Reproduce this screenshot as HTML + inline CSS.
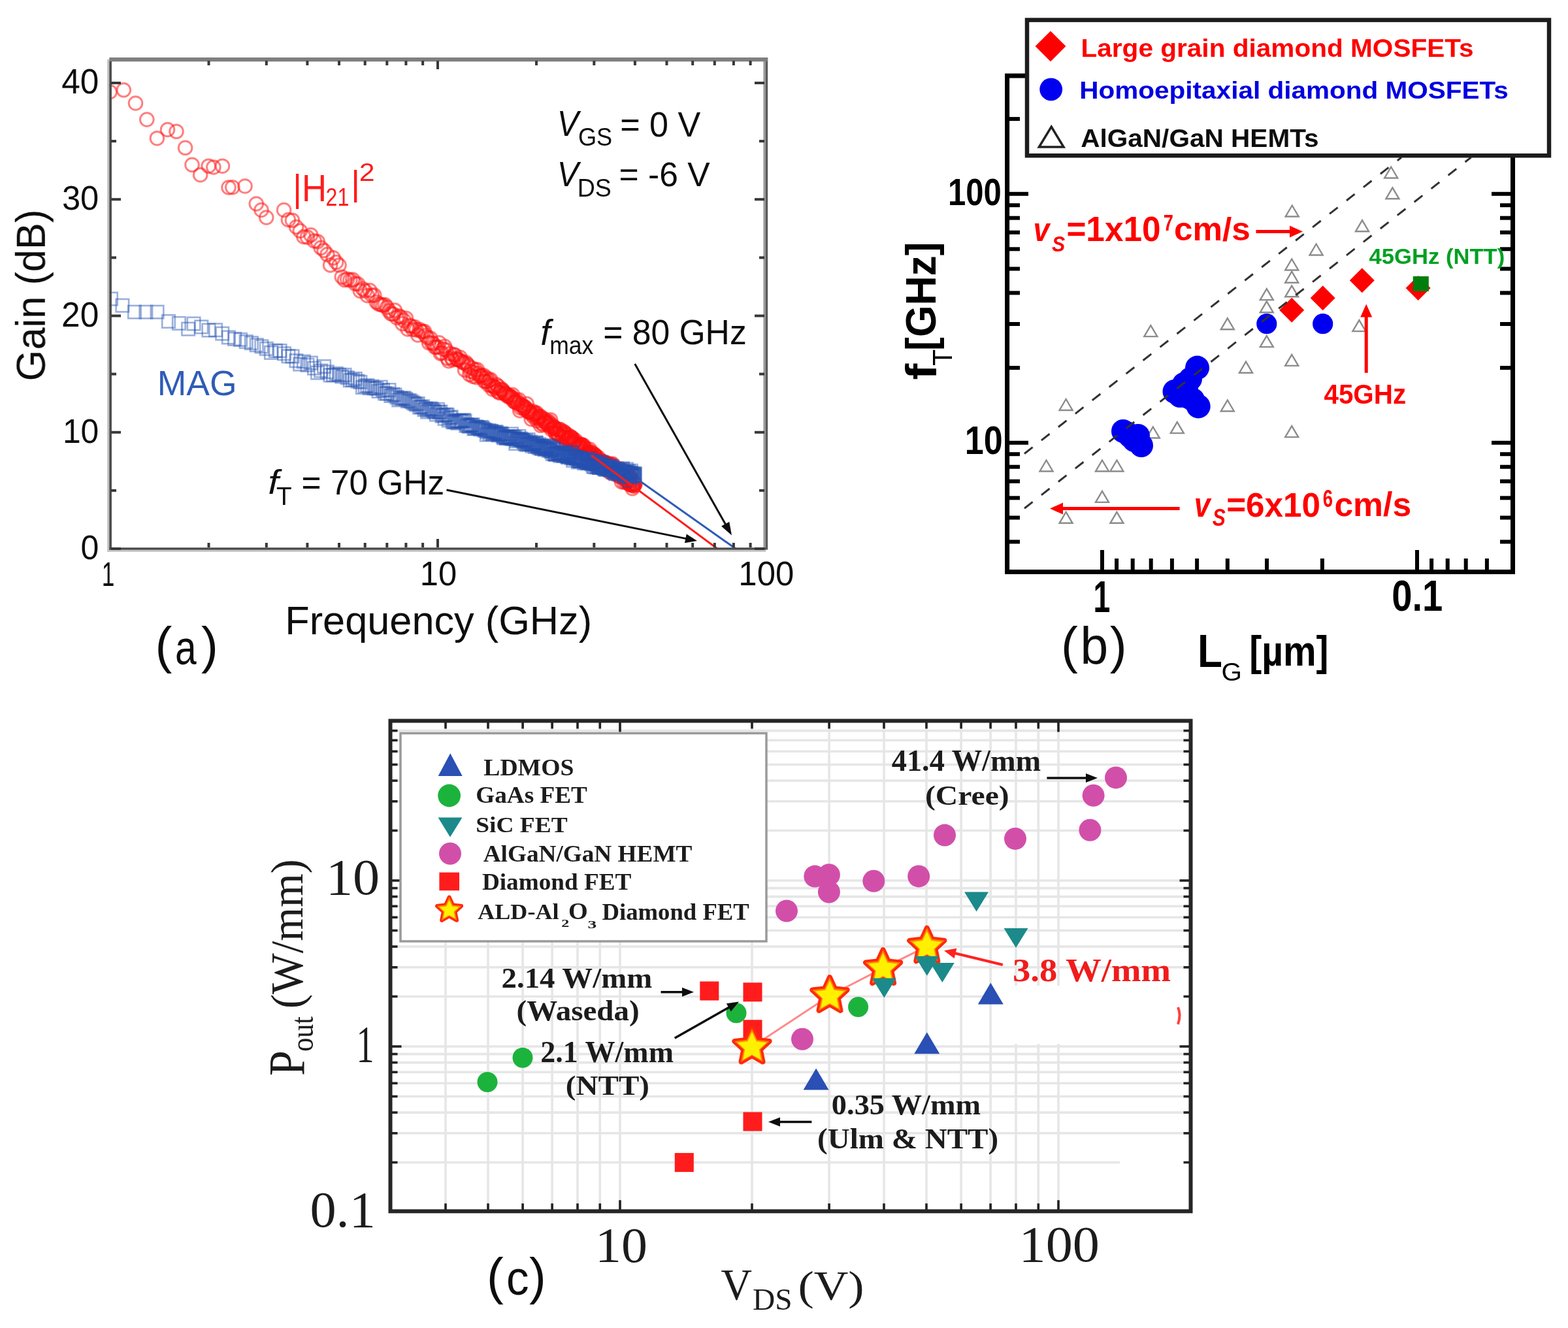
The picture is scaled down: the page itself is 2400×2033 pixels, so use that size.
<!DOCTYPE html>
<html><head><meta charset="utf-8"><title>Figure</title>
<style>html,body{margin:0;padding:0;background:#fff;}svg{display:block;}</style></head>
<body>
<svg width="2400" height="2033" viewBox="0 0 2400 2033">
<defs>
<filter id="soft" x="0" y="0" width="2400" height="2033" filterUnits="userSpaceOnUse"><feGaussianBlur stdDeviation="0.7"/></filter>
<clipPath id="clipA"><rect x="166" y="89" width="1008" height="753"/></clipPath>
</defs>
<rect width="2400" height="2033" fill="#fff"/>
<g filter="url(#soft)">
<g clip-path="url(#clipA)">
<g fill="none" stroke="#ff0a0a" stroke-width="3" stroke-opacity="0.5">
<circle cx="168.2" cy="140.7" r="10.3"/>
<circle cx="189.3" cy="137.8" r="10.3"/>
<circle cx="207.5" cy="158.0" r="10.3"/>
<circle cx="224.8" cy="183.0" r="10.3"/>
<circle cx="240.4" cy="211.7" r="10.3"/>
<circle cx="256.5" cy="198.5" r="10.3"/>
<circle cx="270.0" cy="201.3" r="10.3"/>
<circle cx="283.6" cy="226.3" r="10.3"/>
<circle cx="294.0" cy="252.3" r="10.3"/>
<circle cx="306.7" cy="267.7" r="10.3"/>
<circle cx="319.2" cy="254.2" r="10.3"/>
<circle cx="326.9" cy="256.0" r="10.3"/>
<circle cx="340.4" cy="254.2" r="10.3"/>
<circle cx="350.0" cy="287.0" r="10.3"/>
<circle cx="355.8" cy="286.7" r="10.3"/>
<circle cx="375.0" cy="285.0" r="10.3"/>
<circle cx="392.3" cy="312.0" r="10.3"/>
<circle cx="400.0" cy="321.5" r="10.3"/>
<circle cx="407.7" cy="333.0" r="10.3"/>
<circle cx="434.6" cy="321.5" r="10.3"/>
<circle cx="441.4" cy="336.5" r="10.3"/>
<circle cx="447.5" cy="337.3" r="10.3"/>
<circle cx="453.5" cy="347.5" r="10.3"/>
<circle cx="459.3" cy="353.4" r="10.3"/>
<circle cx="464.9" cy="362.5" r="10.3"/>
<circle cx="470.4" cy="363.1" r="10.3"/>
<circle cx="475.8" cy="359.8" r="10.3"/>
<circle cx="481.1" cy="368.9" r="10.3"/>
<circle cx="486.2" cy="369.8" r="10.3"/>
<circle cx="491.2" cy="379.4" r="10.3"/>
<circle cx="496.1" cy="383.5" r="10.3"/>
<circle cx="500.9" cy="389.6" r="10.3"/>
<circle cx="505.6" cy="405.9" r="10.3"/>
<circle cx="510.1" cy="394.8" r="10.3"/>
<circle cx="514.6" cy="401.5" r="10.3"/>
<circle cx="519.0" cy="406.0" r="10.3"/>
<circle cx="523.3" cy="424.0" r="10.3"/>
<circle cx="527.6" cy="428.6" r="10.3"/>
<circle cx="531.7" cy="427.4" r="10.3"/>
<circle cx="535.8" cy="428.9" r="10.3"/>
<circle cx="539.8" cy="428.1" r="10.3"/>
<circle cx="543.7" cy="434.3" r="10.3"/>
<circle cx="547.6" cy="434.6" r="10.3"/>
<circle cx="551.4" cy="445.4" r="10.3"/>
<circle cx="555.1" cy="442.2" r="10.3"/>
<circle cx="558.7" cy="445.1" r="10.3"/>
<circle cx="562.3" cy="452.5" r="10.3"/>
<circle cx="565.9" cy="444.5" r="10.3"/>
<circle cx="569.4" cy="452.2" r="10.3"/>
<circle cx="572.8" cy="451.9" r="10.3"/>
<circle cx="576.2" cy="462.5" r="10.3"/>
<circle cx="579.5" cy="465.5" r="10.3"/>
<circle cx="582.8" cy="466.1" r="10.3"/>
<circle cx="586.0" cy="467.4" r="10.3"/>
<circle cx="589.2" cy="466.5" r="10.3"/>
<circle cx="592.3" cy="470.5" r="10.3"/>
<circle cx="595.4" cy="475.9" r="10.3"/>
<circle cx="598.5" cy="480.4" r="10.3"/>
<circle cx="601.5" cy="480.7" r="10.3"/>
<circle cx="604.4" cy="475.1" r="10.3"/>
<circle cx="607.3" cy="486.3" r="10.3"/>
<circle cx="610.2" cy="483.7" r="10.3"/>
<circle cx="613.1" cy="485.0" r="10.3"/>
<circle cx="615.9" cy="495.6" r="10.3"/>
<circle cx="618.7" cy="490.8" r="10.3"/>
<circle cx="621.4" cy="487.2" r="10.3"/>
<circle cx="624.1" cy="504.0" r="10.3"/>
<circle cx="626.8" cy="498.4" r="10.3"/>
<circle cx="629.4" cy="499.4" r="10.3"/>
<circle cx="632.0" cy="504.5" r="10.3"/>
<circle cx="634.6" cy="500.5" r="10.3"/>
<circle cx="637.2" cy="504.9" r="10.3"/>
<circle cx="639.7" cy="513.0" r="10.3"/>
<circle cx="642.2" cy="504.6" r="10.3"/>
<circle cx="644.6" cy="507.2" r="10.3"/>
<circle cx="647.1" cy="507.7" r="10.3"/>
<circle cx="649.5" cy="507.3" r="10.3"/>
<circle cx="651.8" cy="513.9" r="10.3"/>
<circle cx="654.2" cy="516.7" r="10.3"/>
<circle cx="656.5" cy="524.8" r="10.3"/>
<circle cx="658.8" cy="517.9" r="10.3"/>
<circle cx="661.1" cy="525.1" r="10.3"/>
<circle cx="663.4" cy="526.1" r="10.3"/>
<circle cx="665.6" cy="531.3" r="10.3"/>
<circle cx="667.8" cy="531.6" r="10.3"/>
<circle cx="670.0" cy="531.3" r="10.3"/>
<circle cx="672.2" cy="524.8" r="10.3"/>
<circle cx="674.3" cy="541.2" r="10.3"/>
<circle cx="676.4" cy="540.2" r="10.3"/>
<circle cx="678.5" cy="534.2" r="10.3"/>
<circle cx="680.6" cy="530.4" r="10.3"/>
<circle cx="682.7" cy="535.8" r="10.3"/>
<circle cx="684.7" cy="548.3" r="10.3"/>
<circle cx="686.8" cy="552.6" r="10.3"/>
<circle cx="688.8" cy="541.3" r="10.3"/>
<circle cx="690.8" cy="547.6" r="10.3"/>
<circle cx="692.7" cy="550.8" r="10.3"/>
<circle cx="694.7" cy="542.9" r="10.3"/>
<circle cx="696.6" cy="543.8" r="10.3"/>
<circle cx="698.5" cy="549.4" r="10.3"/>
<circle cx="700.4" cy="550.4" r="10.3"/>
<circle cx="702.3" cy="550.9" r="10.3"/>
<circle cx="704.2" cy="547.1" r="10.3"/>
<circle cx="706.0" cy="552.7" r="10.3"/>
<circle cx="707.9" cy="554.5" r="10.3"/>
<circle cx="709.7" cy="555.7" r="10.3"/>
<circle cx="711.5" cy="566.4" r="10.3"/>
<circle cx="713.3" cy="555.0" r="10.3"/>
<circle cx="715.1" cy="557.7" r="10.3"/>
<circle cx="716.9" cy="560.8" r="10.3"/>
<circle cx="718.6" cy="573.3" r="10.3"/>
<circle cx="720.3" cy="568.5" r="10.3"/>
<circle cx="722.1" cy="563.2" r="10.3"/>
<circle cx="723.8" cy="576.2" r="10.3"/>
<circle cx="725.5" cy="570.2" r="10.3"/>
<circle cx="727.1" cy="566.0" r="10.3"/>
<circle cx="728.8" cy="577.6" r="10.3"/>
<circle cx="730.5" cy="565.8" r="10.3"/>
<circle cx="732.1" cy="571.7" r="10.3"/>
<circle cx="733.7" cy="575.9" r="10.3"/>
<circle cx="735.4" cy="575.0" r="10.3"/>
<circle cx="737.0" cy="574.7" r="10.3"/>
<circle cx="738.6" cy="578.2" r="10.3"/>
<circle cx="740.1" cy="574.7" r="10.3"/>
<circle cx="741.7" cy="583.9" r="10.3"/>
<circle cx="743.3" cy="583.9" r="10.3"/>
<circle cx="744.8" cy="578.6" r="10.3"/>
<circle cx="746.4" cy="584.2" r="10.3"/>
<circle cx="747.9" cy="589.3" r="10.3"/>
<circle cx="749.4" cy="582.3" r="10.3"/>
<circle cx="750.9" cy="581.0" r="10.3"/>
<circle cx="752.4" cy="590.6" r="10.3"/>
<circle cx="753.9" cy="595.8" r="10.3"/>
<circle cx="755.4" cy="591.3" r="10.3"/>
<circle cx="756.9" cy="592.5" r="10.3"/>
<circle cx="758.3" cy="593.9" r="10.3"/>
<circle cx="759.8" cy="588.9" r="10.3"/>
<circle cx="761.2" cy="598.6" r="10.3"/>
<circle cx="762.6" cy="591.4" r="10.3"/>
<circle cx="764.0" cy="601.4" r="10.3"/>
<circle cx="765.5" cy="600.7" r="10.3"/>
<circle cx="766.9" cy="596.7" r="10.3"/>
<circle cx="768.2" cy="595.9" r="10.3"/>
<circle cx="769.6" cy="597.9" r="10.3"/>
<circle cx="771.0" cy="600.7" r="10.3"/>
<circle cx="772.4" cy="602.4" r="10.3"/>
<circle cx="773.7" cy="603.3" r="10.3"/>
<circle cx="775.1" cy="602.8" r="10.3"/>
<circle cx="776.4" cy="606.4" r="10.3"/>
<circle cx="777.7" cy="605.7" r="10.3"/>
<circle cx="779.1" cy="605.6" r="10.3"/>
<circle cx="780.4" cy="608.6" r="10.3"/>
<circle cx="781.7" cy="606.8" r="10.3"/>
<circle cx="783.0" cy="608.4" r="10.3"/>
<circle cx="784.3" cy="604.2" r="10.3"/>
<circle cx="785.6" cy="611.1" r="10.3"/>
<circle cx="786.8" cy="614.7" r="10.3"/>
<circle cx="788.1" cy="615.5" r="10.3"/>
<circle cx="789.4" cy="615.1" r="10.3"/>
<circle cx="790.6" cy="612.6" r="10.3"/>
<circle cx="791.9" cy="618.0" r="10.3"/>
<circle cx="793.1" cy="616.3" r="10.3"/>
<circle cx="794.4" cy="612.0" r="10.3"/>
<circle cx="795.6" cy="628.6" r="10.3"/>
<circle cx="796.8" cy="624.3" r="10.3"/>
<circle cx="798.0" cy="620.3" r="10.3"/>
<circle cx="799.2" cy="620.6" r="10.3"/>
<circle cx="800.4" cy="622.1" r="10.3"/>
<circle cx="801.6" cy="625.3" r="10.3"/>
<circle cx="802.8" cy="622.2" r="10.3"/>
<circle cx="804.0" cy="624.4" r="10.3"/>
<circle cx="805.2" cy="628.1" r="10.3"/>
<circle cx="806.3" cy="618.4" r="10.3"/>
<circle cx="807.5" cy="626.6" r="10.3"/>
<circle cx="808.6" cy="630.6" r="10.3"/>
<circle cx="809.8" cy="629.8" r="10.3"/>
<circle cx="810.9" cy="631.1" r="10.3"/>
<circle cx="812.1" cy="631.3" r="10.3"/>
<circle cx="813.2" cy="641.6" r="10.3"/>
<circle cx="814.3" cy="634.4" r="10.3"/>
<circle cx="815.5" cy="629.8" r="10.3"/>
<circle cx="816.6" cy="638.4" r="10.3"/>
<circle cx="817.7" cy="635.2" r="10.3"/>
<circle cx="818.8" cy="632.3" r="10.3"/>
<circle cx="819.9" cy="633.4" r="10.3"/>
<circle cx="821.0" cy="631.9" r="10.3"/>
<circle cx="822.1" cy="644.1" r="10.3"/>
<circle cx="823.1" cy="640.0" r="10.3"/>
<circle cx="824.2" cy="640.7" r="10.3"/>
<circle cx="825.3" cy="638.1" r="10.3"/>
<circle cx="826.3" cy="637.1" r="10.3"/>
<circle cx="827.4" cy="651.3" r="10.3"/>
<circle cx="828.5" cy="638.6" r="10.3"/>
<circle cx="829.5" cy="648.4" r="10.3"/>
<circle cx="830.6" cy="641.5" r="10.3"/>
<circle cx="831.6" cy="650.0" r="10.3"/>
<circle cx="832.6" cy="644.8" r="10.3"/>
<circle cx="833.7" cy="641.9" r="10.3"/>
<circle cx="834.7" cy="647.4" r="10.3"/>
<circle cx="835.7" cy="646.9" r="10.3"/>
<circle cx="836.7" cy="645.4" r="10.3"/>
<circle cx="837.7" cy="648.5" r="10.3"/>
<circle cx="838.7" cy="650.0" r="10.3"/>
<circle cx="839.7" cy="644.9" r="10.3"/>
<circle cx="840.7" cy="647.3" r="10.3"/>
<circle cx="841.7" cy="652.8" r="10.3"/>
<circle cx="842.7" cy="642.7" r="10.3"/>
<circle cx="843.7" cy="657.2" r="10.3"/>
<circle cx="844.7" cy="650.6" r="10.3"/>
<circle cx="845.6" cy="655.5" r="10.3"/>
<circle cx="846.6" cy="654.7" r="10.3"/>
<circle cx="847.6" cy="653.3" r="10.3"/>
<circle cx="848.5" cy="655.7" r="10.3"/>
<circle cx="849.5" cy="654.9" r="10.3"/>
<circle cx="850.5" cy="663.3" r="10.3"/>
<circle cx="851.4" cy="663.9" r="10.3"/>
<circle cx="852.4" cy="657.0" r="10.3"/>
<circle cx="853.3" cy="663.3" r="10.3"/>
<circle cx="854.2" cy="664.2" r="10.3"/>
<circle cx="855.2" cy="666.4" r="10.3"/>
<circle cx="856.1" cy="657.3" r="10.3"/>
<circle cx="857.0" cy="659.8" r="10.3"/>
<circle cx="857.9" cy="657.8" r="10.3"/>
<circle cx="858.9" cy="667.1" r="10.3"/>
<circle cx="859.8" cy="664.4" r="10.3"/>
<circle cx="860.7" cy="669.1" r="10.3"/>
<circle cx="861.6" cy="662.9" r="10.3"/>
<circle cx="862.5" cy="660.6" r="10.3"/>
<circle cx="863.4" cy="670.1" r="10.3"/>
<circle cx="864.3" cy="662.0" r="10.3"/>
<circle cx="865.2" cy="664.6" r="10.3"/>
<circle cx="866.1" cy="669.4" r="10.3"/>
<circle cx="866.9" cy="676.4" r="10.3"/>
<circle cx="867.8" cy="665.0" r="10.3"/>
<circle cx="868.7" cy="671.0" r="10.3"/>
<circle cx="869.6" cy="673.4" r="10.3"/>
<circle cx="870.4" cy="670.4" r="10.3"/>
<circle cx="871.3" cy="671.0" r="10.3"/>
<circle cx="872.2" cy="667.7" r="10.3"/>
<circle cx="873.0" cy="677.3" r="10.3"/>
<circle cx="873.9" cy="670.2" r="10.3"/>
<circle cx="874.7" cy="669.5" r="10.3"/>
<circle cx="875.6" cy="670.2" r="10.3"/>
<circle cx="876.4" cy="676.7" r="10.3"/>
<circle cx="877.3" cy="679.3" r="10.3"/>
<circle cx="878.1" cy="673.6" r="10.3"/>
<circle cx="878.9" cy="677.4" r="10.3"/>
<circle cx="879.8" cy="677.9" r="10.3"/>
<circle cx="880.6" cy="673.9" r="10.3"/>
<circle cx="881.4" cy="680.5" r="10.3"/>
<circle cx="882.3" cy="688.3" r="10.3"/>
<circle cx="883.1" cy="682.0" r="10.3"/>
<circle cx="883.9" cy="687.8" r="10.3"/>
<circle cx="884.7" cy="678.9" r="10.3"/>
<circle cx="885.5" cy="681.2" r="10.3"/>
<circle cx="886.3" cy="685.1" r="10.3"/>
<circle cx="887.1" cy="683.5" r="10.3"/>
<circle cx="887.9" cy="681.1" r="10.3"/>
<circle cx="888.7" cy="684.3" r="10.3"/>
<circle cx="889.5" cy="680.4" r="10.3"/>
<circle cx="890.3" cy="685.9" r="10.3"/>
<circle cx="891.1" cy="682.6" r="10.3"/>
<circle cx="891.9" cy="681.5" r="10.3"/>
<circle cx="892.7" cy="681.6" r="10.3"/>
<circle cx="893.5" cy="690.3" r="10.3"/>
<circle cx="894.2" cy="685.3" r="10.3"/>
<circle cx="895.0" cy="695.7" r="10.3"/>
<circle cx="895.8" cy="693.4" r="10.3"/>
<circle cx="896.6" cy="697.1" r="10.3"/>
<circle cx="897.3" cy="686.8" r="10.3"/>
<circle cx="898.1" cy="695.6" r="10.3"/>
<circle cx="898.9" cy="691.7" r="10.3"/>
<circle cx="899.6" cy="692.9" r="10.3"/>
<circle cx="900.4" cy="692.9" r="10.3"/>
<circle cx="901.1" cy="695.4" r="10.3"/>
<circle cx="901.9" cy="693.0" r="10.3"/>
<circle cx="902.6" cy="687.9" r="10.3"/>
<circle cx="903.4" cy="694.7" r="10.3"/>
<circle cx="904.1" cy="693.5" r="10.3"/>
<circle cx="904.9" cy="692.3" r="10.3"/>
<circle cx="905.6" cy="697.1" r="10.3"/>
<circle cx="906.4" cy="701.4" r="10.3"/>
<circle cx="907.1" cy="699.4" r="10.3"/>
<circle cx="907.8" cy="694.1" r="10.3"/>
<circle cx="908.5" cy="704.3" r="10.3"/>
<circle cx="909.3" cy="701.1" r="10.3"/>
<circle cx="910.0" cy="695.9" r="10.3"/>
<circle cx="910.7" cy="697.2" r="10.3"/>
<circle cx="911.4" cy="700.5" r="10.3"/>
<circle cx="912.2" cy="698.1" r="10.3"/>
<circle cx="912.9" cy="700.9" r="10.3"/>
<circle cx="913.6" cy="706.2" r="10.3"/>
<circle cx="914.3" cy="708.1" r="10.3"/>
<circle cx="915.0" cy="705.2" r="10.3"/>
<circle cx="915.7" cy="700.2" r="10.3"/>
<circle cx="916.4" cy="706.0" r="10.3"/>
<circle cx="917.1" cy="707.7" r="10.3"/>
<circle cx="917.8" cy="707.7" r="10.3"/>
<circle cx="918.5" cy="710.9" r="10.3"/>
<circle cx="919.2" cy="706.3" r="10.3"/>
<circle cx="919.9" cy="710.6" r="10.3"/>
<circle cx="920.6" cy="705.6" r="10.3"/>
<circle cx="921.3" cy="715.8" r="10.3"/>
<circle cx="922.0" cy="706.7" r="10.3"/>
<circle cx="922.7" cy="710.6" r="10.3"/>
<circle cx="923.3" cy="715.7" r="10.3"/>
<circle cx="924.0" cy="706.7" r="10.3"/>
<circle cx="924.7" cy="710.7" r="10.3"/>
<circle cx="925.4" cy="718.2" r="10.3"/>
<circle cx="926.0" cy="713.8" r="10.3"/>
<circle cx="926.7" cy="710.1" r="10.3"/>
<circle cx="927.4" cy="713.2" r="10.3"/>
<circle cx="928.0" cy="709.3" r="10.3"/>
<circle cx="928.7" cy="709.9" r="10.3"/>
<circle cx="929.4" cy="710.6" r="10.3"/>
<circle cx="930.0" cy="712.3" r="10.3"/>
<circle cx="930.7" cy="709.2" r="10.3"/>
<circle cx="931.4" cy="712.0" r="10.3"/>
<circle cx="932.0" cy="713.2" r="10.3"/>
<circle cx="932.7" cy="722.7" r="10.3"/>
<circle cx="933.3" cy="712.6" r="10.3"/>
<circle cx="934.0" cy="711.5" r="10.3"/>
<circle cx="934.6" cy="717.7" r="10.3"/>
<circle cx="935.3" cy="718.8" r="10.3"/>
<circle cx="935.9" cy="710.6" r="10.3"/>
<circle cx="936.5" cy="724.3" r="10.3"/>
<circle cx="937.2" cy="716.8" r="10.3"/>
<circle cx="937.8" cy="710.3" r="10.3"/>
<circle cx="938.5" cy="722.7" r="10.3"/>
<circle cx="939.1" cy="717.3" r="10.3"/>
<circle cx="939.7" cy="713.5" r="10.3"/>
<circle cx="940.3" cy="721.1" r="10.3"/>
<circle cx="941.0" cy="719.1" r="10.3"/>
<circle cx="941.6" cy="718.3" r="10.3"/>
<circle cx="942.2" cy="725.2" r="10.3"/>
<circle cx="942.9" cy="722.7" r="10.3"/>
<circle cx="943.5" cy="721.8" r="10.3"/>
<circle cx="944.1" cy="720.3" r="10.3"/>
<circle cx="944.7" cy="723.8" r="10.3"/>
<circle cx="945.3" cy="724.9" r="10.3"/>
<circle cx="945.9" cy="728.2" r="10.3"/>
<circle cx="946.6" cy="726.3" r="10.3"/>
<circle cx="947.2" cy="722.3" r="10.3"/>
<circle cx="947.8" cy="725.5" r="10.3"/>
<circle cx="948.4" cy="729.3" r="10.3"/>
<circle cx="949.0" cy="729.7" r="10.3"/>
<circle cx="949.6" cy="717.6" r="10.3"/>
<circle cx="950.2" cy="723.5" r="10.3"/>
<circle cx="950.8" cy="725.7" r="10.3"/>
<circle cx="951.4" cy="737.6" r="10.3"/>
<circle cx="952.0" cy="726.6" r="10.3"/>
<circle cx="952.6" cy="727.5" r="10.3"/>
<circle cx="953.2" cy="723.6" r="10.3"/>
<circle cx="953.8" cy="728.5" r="10.3"/>
<circle cx="954.4" cy="730.7" r="10.3"/>
<circle cx="955.0" cy="729.0" r="10.3"/>
<circle cx="955.5" cy="738.2" r="10.3"/>
<circle cx="956.1" cy="728.0" r="10.3"/>
<circle cx="956.7" cy="731.0" r="10.3"/>
<circle cx="957.3" cy="735.0" r="10.3"/>
<circle cx="957.9" cy="728.2" r="10.3"/>
<circle cx="958.5" cy="726.9" r="10.3"/>
<circle cx="959.0" cy="738.7" r="10.3"/>
<circle cx="959.6" cy="736.5" r="10.3"/>
<circle cx="960.2" cy="733.5" r="10.3"/>
<circle cx="960.8" cy="734.3" r="10.3"/>
<circle cx="961.3" cy="736.8" r="10.3"/>
<circle cx="961.9" cy="739.2" r="10.3"/>
<circle cx="962.5" cy="728.6" r="10.3"/>
<circle cx="963.0" cy="732.8" r="10.3"/>
<circle cx="963.6" cy="741.2" r="10.3"/>
<circle cx="964.2" cy="742.1" r="10.3"/>
<circle cx="964.7" cy="731.6" r="10.3"/>
<circle cx="965.3" cy="734.6" r="10.3"/>
<circle cx="965.9" cy="732.0" r="10.3"/>
<circle cx="966.4" cy="736.0" r="10.3"/>
<circle cx="967.0" cy="742.4" r="10.3"/>
<circle cx="967.5" cy="738.7" r="10.3"/>
<circle cx="968.1" cy="747.8" r="10.3"/>
<circle cx="968.6" cy="743.1" r="10.3"/>
<circle cx="969.2" cy="741.0" r="10.3"/>
<circle cx="969.7" cy="739.4" r="10.3"/>
<circle cx="970.3" cy="744.2" r="10.3"/>
<circle cx="970.8" cy="742.4" r="10.3"/>
<circle cx="971.4" cy="740.7" r="10.3"/>
<circle cx="971.9" cy="741.4" r="10.3"/>
</g>
<g fill="none" stroke="#2550b0" stroke-width="2.6" stroke-opacity="0.46">
<rect x="160.2" y="447.8" width="19.5" height="19.5"/>
<rect x="177.6" y="457.9" width="19.5" height="19.5"/>
<rect x="196.2" y="467.9" width="19.5" height="19.5"/>
<rect x="213.6" y="467.9" width="19.5" height="19.5"/>
<rect x="230.8" y="467.9" width="19.5" height="19.5"/>
<rect x="248.2" y="482.2" width="19.5" height="19.5"/>
<rect x="264.1" y="485.2" width="19.5" height="19.5"/>
<rect x="278.4" y="493.9" width="19.5" height="19.5"/>
<rect x="286.8" y="485.8" width="19.5" height="19.5"/>
<rect x="298.5" y="490.7" width="19.5" height="19.5"/>
<rect x="309.7" y="495.8" width="19.5" height="19.5"/>
<rect x="320.3" y="495.5" width="19.5" height="19.5"/>
<rect x="330.5" y="500.9" width="19.5" height="19.5"/>
<rect x="340.2" y="506.7" width="19.5" height="19.5"/>
<rect x="349.4" y="509.2" width="19.5" height="19.5"/>
<rect x="358.3" y="510.2" width="19.5" height="19.5"/>
<rect x="366.9" y="513.4" width="19.5" height="19.5"/>
<rect x="375.1" y="515.4" width="19.5" height="19.5"/>
<rect x="383.0" y="518.5" width="19.5" height="19.5"/>
<rect x="390.6" y="520.6" width="19.5" height="19.5"/>
<rect x="398.0" y="524.1" width="19.5" height="19.5"/>
<rect x="405.2" y="530.1" width="19.5" height="19.5"/>
<rect x="412.1" y="527.1" width="19.5" height="19.5"/>
<rect x="418.8" y="527.3" width="19.5" height="19.5"/>
<rect x="425.3" y="531.5" width="19.5" height="19.5"/>
<rect x="431.6" y="535.6" width="19.5" height="19.5"/>
<rect x="437.7" y="535.7" width="19.5" height="19.5"/>
<rect x="443.7" y="542.5" width="19.5" height="19.5"/>
<rect x="449.5" y="547.8" width="19.5" height="19.5"/>
<rect x="455.2" y="543.8" width="19.5" height="19.5"/>
<rect x="460.7" y="549.1" width="19.5" height="19.5"/>
<rect x="466.1" y="545.9" width="19.5" height="19.5"/>
<rect x="471.3" y="553.9" width="19.5" height="19.5"/>
<rect x="476.4" y="560.9" width="19.5" height="19.5"/>
<rect x="481.4" y="557.8" width="19.5" height="19.5"/>
<rect x="486.3" y="551.3" width="19.5" height="19.5"/>
<rect x="491.1" y="559.6" width="19.5" height="19.5"/>
<rect x="495.8" y="564.6" width="19.5" height="19.5"/>
<rect x="500.4" y="564.5" width="19.5" height="19.5"/>
<rect x="504.9" y="562.2" width="19.5" height="19.5"/>
<rect x="509.3" y="564.0" width="19.5" height="19.5"/>
<rect x="513.6" y="566.7" width="19.5" height="19.5"/>
<rect x="517.8" y="564.2" width="19.5" height="19.5"/>
<rect x="522.0" y="568.4" width="19.5" height="19.5"/>
<rect x="526.0" y="572.4" width="19.5" height="19.5"/>
<rect x="530.0" y="572.0" width="19.5" height="19.5"/>
<rect x="534.0" y="570.1" width="19.5" height="19.5"/>
<rect x="537.8" y="573.9" width="19.5" height="19.5"/>
<rect x="541.6" y="575.2" width="19.5" height="19.5"/>
<rect x="545.3" y="583.3" width="19.5" height="19.5"/>
<rect x="549.0" y="581.5" width="19.5" height="19.5"/>
<rect x="552.6" y="580.4" width="19.5" height="19.5"/>
<rect x="556.1" y="584.4" width="19.5" height="19.5"/>
<rect x="559.6" y="582.0" width="19.5" height="19.5"/>
<rect x="563.0" y="584.5" width="19.5" height="19.5"/>
<rect x="566.4" y="584.9" width="19.5" height="19.5"/>
<rect x="569.8" y="589.1" width="19.5" height="19.5"/>
<rect x="573.0" y="582.9" width="19.5" height="19.5"/>
<rect x="576.3" y="587.5" width="19.5" height="19.5"/>
<rect x="579.4" y="592.5" width="19.5" height="19.5"/>
<rect x="582.6" y="592.8" width="19.5" height="19.5"/>
<rect x="585.7" y="587.3" width="19.5" height="19.5"/>
<rect x="588.7" y="596.2" width="19.5" height="19.5"/>
<rect x="591.7" y="594.0" width="19.5" height="19.5"/>
<rect x="594.7" y="594.8" width="19.5" height="19.5"/>
<rect x="597.6" y="598.4" width="19.5" height="19.5"/>
<rect x="600.5" y="602.6" width="19.5" height="19.5"/>
<rect x="603.3" y="600.0" width="19.5" height="19.5"/>
<rect x="606.1" y="600.6" width="19.5" height="19.5"/>
<rect x="608.9" y="599.5" width="19.5" height="19.5"/>
<rect x="611.6" y="601.4" width="19.5" height="19.5"/>
<rect x="614.4" y="604.4" width="19.5" height="19.5"/>
<rect x="617.0" y="603.1" width="19.5" height="19.5"/>
<rect x="619.7" y="604.9" width="19.5" height="19.5"/>
<rect x="622.3" y="606.7" width="19.5" height="19.5"/>
<rect x="624.9" y="608.1" width="19.5" height="19.5"/>
<rect x="627.4" y="609.8" width="19.5" height="19.5"/>
<rect x="629.9" y="608.2" width="19.5" height="19.5"/>
<rect x="632.4" y="613.7" width="19.5" height="19.5"/>
<rect x="634.9" y="613.5" width="19.5" height="19.5"/>
<rect x="637.3" y="612.6" width="19.5" height="19.5"/>
<rect x="639.7" y="617.4" width="19.5" height="19.5"/>
<rect x="642.1" y="615.6" width="19.5" height="19.5"/>
<rect x="644.4" y="620.8" width="19.5" height="19.5"/>
<rect x="646.8" y="618.2" width="19.5" height="19.5"/>
<rect x="649.1" y="615.8" width="19.5" height="19.5"/>
<rect x="651.4" y="616.7" width="19.5" height="19.5"/>
<rect x="653.6" y="619.3" width="19.5" height="19.5"/>
<rect x="655.8" y="620.7" width="19.5" height="19.5"/>
<rect x="658.1" y="624.8" width="19.5" height="19.5"/>
<rect x="660.2" y="617.0" width="19.5" height="19.5"/>
<rect x="662.4" y="621.4" width="19.5" height="19.5"/>
<rect x="664.6" y="620.7" width="19.5" height="19.5"/>
<rect x="666.7" y="626.9" width="19.5" height="19.5"/>
<rect x="668.8" y="625.9" width="19.5" height="19.5"/>
<rect x="670.9" y="631.1" width="19.5" height="19.5"/>
<rect x="672.9" y="625.0" width="19.5" height="19.5"/>
<rect x="675.0" y="625.4" width="19.5" height="19.5"/>
<rect x="677.0" y="633.8" width="19.5" height="19.5"/>
<rect x="679.0" y="629.7" width="19.5" height="19.5"/>
<rect x="681.0" y="628.7" width="19.5" height="19.5"/>
<rect x="683.0" y="635.9" width="19.5" height="19.5"/>
<rect x="684.9" y="636.8" width="19.5" height="19.5"/>
<rect x="686.9" y="635.6" width="19.5" height="19.5"/>
<rect x="688.8" y="635.2" width="19.5" height="19.5"/>
<rect x="690.7" y="638.0" width="19.5" height="19.5"/>
<rect x="692.6" y="634.8" width="19.5" height="19.5"/>
<rect x="694.4" y="634.8" width="19.5" height="19.5"/>
<rect x="696.3" y="634.4" width="19.5" height="19.5"/>
<rect x="698.1" y="634.8" width="19.5" height="19.5"/>
<rect x="700.0" y="633.2" width="19.5" height="19.5"/>
<rect x="701.8" y="634.7" width="19.5" height="19.5"/>
<rect x="703.6" y="641.9" width="19.5" height="19.5"/>
<rect x="705.3" y="640.3" width="19.5" height="19.5"/>
<rect x="707.1" y="642.4" width="19.5" height="19.5"/>
<rect x="708.9" y="643.0" width="19.5" height="19.5"/>
<rect x="710.6" y="640.9" width="19.5" height="19.5"/>
<rect x="712.3" y="641.2" width="19.5" height="19.5"/>
<rect x="714.0" y="640.5" width="19.5" height="19.5"/>
<rect x="715.7" y="646.6" width="19.5" height="19.5"/>
<rect x="717.4" y="646.2" width="19.5" height="19.5"/>
<rect x="719.1" y="643.5" width="19.5" height="19.5"/>
<rect x="720.7" y="644.5" width="19.5" height="19.5"/>
<rect x="722.4" y="645.3" width="19.5" height="19.5"/>
<rect x="724.0" y="645.2" width="19.5" height="19.5"/>
<rect x="725.6" y="647.5" width="19.5" height="19.5"/>
<rect x="727.2" y="644.2" width="19.5" height="19.5"/>
<rect x="728.8" y="645.6" width="19.5" height="19.5"/>
<rect x="730.4" y="647.3" width="19.5" height="19.5"/>
<rect x="732.0" y="649.4" width="19.5" height="19.5"/>
<rect x="733.5" y="648.5" width="19.5" height="19.5"/>
<rect x="735.1" y="655.8" width="19.5" height="19.5"/>
<rect x="736.6" y="651.7" width="19.5" height="19.5"/>
<rect x="738.2" y="649.4" width="19.5" height="19.5"/>
<rect x="739.7" y="654.1" width="19.5" height="19.5"/>
<rect x="741.2" y="650.0" width="19.5" height="19.5"/>
<rect x="742.7" y="650.6" width="19.5" height="19.5"/>
<rect x="744.2" y="655.2" width="19.5" height="19.5"/>
<rect x="745.6" y="652.6" width="19.5" height="19.5"/>
<rect x="747.1" y="653.3" width="19.5" height="19.5"/>
<rect x="748.6" y="651.7" width="19.5" height="19.5"/>
<rect x="750.0" y="651.7" width="19.5" height="19.5"/>
<rect x="751.4" y="653.9" width="19.5" height="19.5"/>
<rect x="752.9" y="656.6" width="19.5" height="19.5"/>
<rect x="754.3" y="655.1" width="19.5" height="19.5"/>
<rect x="755.7" y="655.4" width="19.5" height="19.5"/>
<rect x="757.1" y="653.7" width="19.5" height="19.5"/>
<rect x="758.5" y="655.3" width="19.5" height="19.5"/>
<rect x="759.9" y="658.5" width="19.5" height="19.5"/>
<rect x="761.3" y="660.6" width="19.5" height="19.5"/>
<rect x="762.6" y="658.4" width="19.5" height="19.5"/>
<rect x="764.0" y="659.8" width="19.5" height="19.5"/>
<rect x="765.3" y="661.3" width="19.5" height="19.5"/>
<rect x="766.7" y="659.0" width="19.5" height="19.5"/>
<rect x="768.0" y="660.5" width="19.5" height="19.5"/>
<rect x="769.3" y="659.3" width="19.5" height="19.5"/>
<rect x="770.6" y="658.6" width="19.5" height="19.5"/>
<rect x="771.9" y="661.5" width="19.5" height="19.5"/>
<rect x="773.2" y="654.6" width="19.5" height="19.5"/>
<rect x="774.5" y="662.1" width="19.5" height="19.5"/>
<rect x="775.8" y="658.7" width="19.5" height="19.5"/>
<rect x="777.1" y="661.7" width="19.5" height="19.5"/>
<rect x="778.4" y="659.5" width="19.5" height="19.5"/>
<rect x="779.6" y="669.2" width="19.5" height="19.5"/>
<rect x="780.9" y="665.3" width="19.5" height="19.5"/>
<rect x="782.1" y="663.0" width="19.5" height="19.5"/>
<rect x="783.4" y="662.5" width="19.5" height="19.5"/>
<rect x="784.6" y="658.2" width="19.5" height="19.5"/>
<rect x="785.8" y="664.0" width="19.5" height="19.5"/>
<rect x="787.1" y="661.8" width="19.5" height="19.5"/>
<rect x="788.3" y="663.6" width="19.5" height="19.5"/>
<rect x="789.5" y="663.5" width="19.5" height="19.5"/>
<rect x="790.7" y="665.1" width="19.5" height="19.5"/>
<rect x="791.9" y="667.2" width="19.5" height="19.5"/>
<rect x="793.1" y="665.8" width="19.5" height="19.5"/>
<rect x="794.2" y="670.4" width="19.5" height="19.5"/>
<rect x="795.4" y="664.7" width="19.5" height="19.5"/>
<rect x="796.6" y="671.0" width="19.5" height="19.5"/>
<rect x="797.7" y="668.0" width="19.5" height="19.5"/>
<rect x="798.9" y="663.3" width="19.5" height="19.5"/>
<rect x="800.0" y="669.9" width="19.5" height="19.5"/>
<rect x="801.2" y="669.6" width="19.5" height="19.5"/>
<rect x="802.3" y="666.9" width="19.5" height="19.5"/>
<rect x="803.5" y="670.3" width="19.5" height="19.5"/>
<rect x="804.6" y="672.9" width="19.5" height="19.5"/>
<rect x="805.7" y="670.4" width="19.5" height="19.5"/>
<rect x="806.8" y="669.9" width="19.5" height="19.5"/>
<rect x="807.9" y="669.9" width="19.5" height="19.5"/>
<rect x="809.0" y="674.2" width="19.5" height="19.5"/>
<rect x="810.1" y="667.8" width="19.5" height="19.5"/>
<rect x="811.2" y="668.3" width="19.5" height="19.5"/>
<rect x="812.3" y="673.1" width="19.5" height="19.5"/>
<rect x="813.4" y="672.7" width="19.5" height="19.5"/>
<rect x="814.5" y="674.9" width="19.5" height="19.5"/>
<rect x="815.5" y="670.4" width="19.5" height="19.5"/>
<rect x="816.6" y="676.3" width="19.5" height="19.5"/>
<rect x="817.7" y="673.0" width="19.5" height="19.5"/>
<rect x="818.7" y="676.4" width="19.5" height="19.5"/>
<rect x="819.8" y="677.3" width="19.5" height="19.5"/>
<rect x="820.8" y="673.8" width="19.5" height="19.5"/>
<rect x="821.8" y="672.5" width="19.5" height="19.5"/>
<rect x="822.9" y="676.4" width="19.5" height="19.5"/>
<rect x="823.9" y="678.5" width="19.5" height="19.5"/>
<rect x="824.9" y="674.9" width="19.5" height="19.5"/>
<rect x="826.0" y="677.5" width="19.5" height="19.5"/>
<rect x="827.0" y="676.8" width="19.5" height="19.5"/>
<rect x="828.0" y="673.9" width="19.5" height="19.5"/>
<rect x="829.0" y="675.3" width="19.5" height="19.5"/>
<rect x="830.0" y="680.0" width="19.5" height="19.5"/>
<rect x="831.0" y="672.8" width="19.5" height="19.5"/>
<rect x="832.0" y="679.2" width="19.5" height="19.5"/>
<rect x="833.0" y="677.4" width="19.5" height="19.5"/>
<rect x="833.9" y="681.6" width="19.5" height="19.5"/>
<rect x="834.9" y="680.3" width="19.5" height="19.5"/>
<rect x="835.9" y="685.1" width="19.5" height="19.5"/>
<rect x="836.9" y="676.0" width="19.5" height="19.5"/>
<rect x="837.8" y="677.4" width="19.5" height="19.5"/>
<rect x="838.8" y="684.6" width="19.5" height="19.5"/>
<rect x="839.8" y="685.7" width="19.5" height="19.5"/>
<rect x="840.7" y="686.3" width="19.5" height="19.5"/>
<rect x="841.7" y="679.1" width="19.5" height="19.5"/>
<rect x="842.6" y="683.8" width="19.5" height="19.5"/>
<rect x="843.5" y="683.0" width="19.5" height="19.5"/>
<rect x="844.5" y="683.9" width="19.5" height="19.5"/>
<rect x="845.4" y="683.7" width="19.5" height="19.5"/>
<rect x="846.3" y="686.6" width="19.5" height="19.5"/>
<rect x="847.3" y="683.9" width="19.5" height="19.5"/>
<rect x="848.2" y="688.1" width="19.5" height="19.5"/>
<rect x="849.1" y="684.7" width="19.5" height="19.5"/>
<rect x="850.0" y="684.0" width="19.5" height="19.5"/>
<rect x="850.9" y="683.9" width="19.5" height="19.5"/>
<rect x="851.8" y="686.0" width="19.5" height="19.5"/>
<rect x="852.7" y="688.1" width="19.5" height="19.5"/>
<rect x="853.6" y="685.5" width="19.5" height="19.5"/>
<rect x="854.5" y="687.5" width="19.5" height="19.5"/>
<rect x="855.4" y="682.3" width="19.5" height="19.5"/>
<rect x="856.3" y="684.7" width="19.5" height="19.5"/>
<rect x="857.2" y="687.4" width="19.5" height="19.5"/>
<rect x="858.1" y="688.6" width="19.5" height="19.5"/>
<rect x="858.9" y="689.5" width="19.5" height="19.5"/>
<rect x="859.8" y="690.4" width="19.5" height="19.5"/>
<rect x="860.7" y="689.1" width="19.5" height="19.5"/>
<rect x="861.6" y="687.6" width="19.5" height="19.5"/>
<rect x="862.4" y="687.3" width="19.5" height="19.5"/>
<rect x="863.3" y="687.4" width="19.5" height="19.5"/>
<rect x="864.1" y="683.6" width="19.5" height="19.5"/>
<rect x="865.0" y="691.3" width="19.5" height="19.5"/>
<rect x="865.8" y="689.7" width="19.5" height="19.5"/>
<rect x="866.7" y="682.5" width="19.5" height="19.5"/>
<rect x="867.5" y="695.2" width="19.5" height="19.5"/>
<rect x="868.4" y="691.9" width="19.5" height="19.5"/>
<rect x="869.2" y="690.3" width="19.5" height="19.5"/>
<rect x="870.0" y="690.6" width="19.5" height="19.5"/>
<rect x="870.9" y="690.2" width="19.5" height="19.5"/>
<rect x="871.7" y="692.2" width="19.5" height="19.5"/>
<rect x="872.5" y="690.8" width="19.5" height="19.5"/>
<rect x="873.3" y="691.9" width="19.5" height="19.5"/>
<rect x="874.1" y="690.2" width="19.5" height="19.5"/>
<rect x="875.0" y="697.6" width="19.5" height="19.5"/>
<rect x="875.8" y="695.2" width="19.5" height="19.5"/>
<rect x="876.6" y="693.1" width="19.5" height="19.5"/>
<rect x="877.4" y="696.1" width="19.5" height="19.5"/>
<rect x="878.2" y="696.4" width="19.5" height="19.5"/>
<rect x="879.0" y="692.1" width="19.5" height="19.5"/>
<rect x="879.8" y="695.8" width="19.5" height="19.5"/>
<rect x="880.6" y="692.6" width="19.5" height="19.5"/>
<rect x="881.4" y="692.5" width="19.5" height="19.5"/>
<rect x="882.2" y="694.0" width="19.5" height="19.5"/>
<rect x="882.9" y="693.7" width="19.5" height="19.5"/>
<rect x="883.7" y="695.6" width="19.5" height="19.5"/>
<rect x="884.5" y="699.3" width="19.5" height="19.5"/>
<rect x="885.3" y="695.8" width="19.5" height="19.5"/>
<rect x="886.0" y="694.8" width="19.5" height="19.5"/>
<rect x="886.8" y="697.7" width="19.5" height="19.5"/>
<rect x="887.6" y="696.7" width="19.5" height="19.5"/>
<rect x="888.4" y="694.7" width="19.5" height="19.5"/>
<rect x="889.1" y="699.3" width="19.5" height="19.5"/>
<rect x="889.9" y="695.5" width="19.5" height="19.5"/>
<rect x="890.6" y="692.4" width="19.5" height="19.5"/>
<rect x="891.4" y="699.1" width="19.5" height="19.5"/>
<rect x="892.1" y="697.5" width="19.5" height="19.5"/>
<rect x="892.9" y="698.5" width="19.5" height="19.5"/>
<rect x="893.6" y="694.2" width="19.5" height="19.5"/>
<rect x="894.4" y="697.7" width="19.5" height="19.5"/>
<rect x="895.1" y="696.4" width="19.5" height="19.5"/>
<rect x="895.9" y="700.9" width="19.5" height="19.5"/>
<rect x="896.6" y="699.3" width="19.5" height="19.5"/>
<rect x="897.3" y="699.5" width="19.5" height="19.5"/>
<rect x="898.1" y="704.5" width="19.5" height="19.5"/>
<rect x="898.8" y="696.1" width="19.5" height="19.5"/>
<rect x="899.5" y="697.8" width="19.5" height="19.5"/>
<rect x="900.3" y="705.1" width="19.5" height="19.5"/>
<rect x="901.0" y="698.6" width="19.5" height="19.5"/>
<rect x="901.7" y="701.2" width="19.5" height="19.5"/>
<rect x="902.4" y="699.9" width="19.5" height="19.5"/>
<rect x="903.1" y="700.3" width="19.5" height="19.5"/>
<rect x="903.8" y="705.5" width="19.5" height="19.5"/>
<rect x="904.5" y="702.3" width="19.5" height="19.5"/>
<rect x="905.3" y="698.0" width="19.5" height="19.5"/>
<rect x="906.0" y="703.7" width="19.5" height="19.5"/>
<rect x="906.7" y="705.1" width="19.5" height="19.5"/>
<rect x="907.4" y="706.2" width="19.5" height="19.5"/>
<rect x="908.1" y="706.1" width="19.5" height="19.5"/>
<rect x="908.8" y="702.1" width="19.5" height="19.5"/>
<rect x="909.5" y="698.7" width="19.5" height="19.5"/>
<rect x="910.2" y="702.3" width="19.5" height="19.5"/>
<rect x="910.8" y="703.0" width="19.5" height="19.5"/>
<rect x="911.5" y="697.9" width="19.5" height="19.5"/>
<rect x="912.2" y="705.5" width="19.5" height="19.5"/>
<rect x="912.9" y="706.1" width="19.5" height="19.5"/>
<rect x="913.6" y="703.1" width="19.5" height="19.5"/>
<rect x="914.3" y="703.3" width="19.5" height="19.5"/>
<rect x="914.9" y="707.7" width="19.5" height="19.5"/>
<rect x="915.6" y="708.3" width="19.5" height="19.5"/>
<rect x="916.3" y="704.6" width="19.5" height="19.5"/>
<rect x="917.0" y="704.9" width="19.5" height="19.5"/>
<rect x="917.6" y="709.3" width="19.5" height="19.5"/>
<rect x="918.3" y="706.5" width="19.5" height="19.5"/>
<rect x="919.0" y="707.7" width="19.5" height="19.5"/>
<rect x="919.6" y="705.2" width="19.5" height="19.5"/>
<rect x="920.3" y="706.9" width="19.5" height="19.5"/>
<rect x="920.9" y="707.0" width="19.5" height="19.5"/>
<rect x="921.6" y="708.0" width="19.5" height="19.5"/>
<rect x="922.3" y="704.4" width="19.5" height="19.5"/>
<rect x="922.9" y="703.7" width="19.5" height="19.5"/>
<rect x="923.6" y="708.6" width="19.5" height="19.5"/>
<rect x="924.2" y="705.6" width="19.5" height="19.5"/>
<rect x="924.9" y="710.1" width="19.5" height="19.5"/>
<rect x="925.5" y="708.0" width="19.5" height="19.5"/>
<rect x="926.1" y="706.4" width="19.5" height="19.5"/>
<rect x="926.8" y="704.6" width="19.5" height="19.5"/>
<rect x="927.4" y="709.8" width="19.5" height="19.5"/>
<rect x="928.1" y="709.2" width="19.5" height="19.5"/>
<rect x="928.7" y="708.7" width="19.5" height="19.5"/>
<rect x="929.3" y="713.4" width="19.5" height="19.5"/>
<rect x="930.0" y="709.6" width="19.5" height="19.5"/>
<rect x="930.6" y="711.6" width="19.5" height="19.5"/>
<rect x="931.2" y="709.0" width="19.5" height="19.5"/>
<rect x="931.9" y="713.2" width="19.5" height="19.5"/>
<rect x="932.5" y="715.7" width="19.5" height="19.5"/>
<rect x="933.1" y="710.5" width="19.5" height="19.5"/>
<rect x="933.7" y="710.1" width="19.5" height="19.5"/>
<rect x="934.3" y="712.4" width="19.5" height="19.5"/>
<rect x="935.0" y="708.8" width="19.5" height="19.5"/>
<rect x="935.6" y="712.1" width="19.5" height="19.5"/>
<rect x="936.2" y="713.2" width="19.5" height="19.5"/>
<rect x="936.8" y="710.5" width="19.5" height="19.5"/>
<rect x="937.4" y="716.1" width="19.5" height="19.5"/>
<rect x="938.0" y="713.9" width="19.5" height="19.5"/>
<rect x="938.6" y="712.4" width="19.5" height="19.5"/>
<rect x="939.2" y="710.2" width="19.5" height="19.5"/>
<rect x="939.8" y="713.1" width="19.5" height="19.5"/>
<rect x="940.4" y="712.0" width="19.5" height="19.5"/>
<rect x="941.0" y="714.8" width="19.5" height="19.5"/>
<rect x="941.6" y="712.4" width="19.5" height="19.5"/>
<rect x="942.2" y="709.0" width="19.5" height="19.5"/>
<rect x="942.8" y="715.4" width="19.5" height="19.5"/>
<rect x="943.4" y="707.5" width="19.5" height="19.5"/>
<rect x="944.0" y="715.7" width="19.5" height="19.5"/>
<rect x="944.6" y="714.1" width="19.5" height="19.5"/>
<rect x="945.2" y="713.9" width="19.5" height="19.5"/>
<rect x="945.8" y="711.8" width="19.5" height="19.5"/>
<rect x="946.4" y="718.0" width="19.5" height="19.5"/>
<rect x="947.0" y="720.5" width="19.5" height="19.5"/>
<rect x="947.5" y="713.4" width="19.5" height="19.5"/>
<rect x="948.1" y="713.1" width="19.5" height="19.5"/>
<rect x="948.7" y="713.8" width="19.5" height="19.5"/>
<rect x="949.3" y="708.6" width="19.5" height="19.5"/>
<rect x="949.9" y="715.2" width="19.5" height="19.5"/>
<rect x="950.4" y="715.3" width="19.5" height="19.5"/>
<rect x="951.0" y="713.7" width="19.5" height="19.5"/>
<rect x="951.6" y="715.2" width="19.5" height="19.5"/>
<rect x="952.2" y="711.8" width="19.5" height="19.5"/>
<rect x="952.7" y="719.7" width="19.5" height="19.5"/>
<rect x="953.3" y="717.4" width="19.5" height="19.5"/>
<rect x="953.9" y="725.7" width="19.5" height="19.5"/>
<rect x="954.4" y="714.4" width="19.5" height="19.5"/>
<rect x="955.0" y="717.6" width="19.5" height="19.5"/>
<rect x="955.5" y="714.2" width="19.5" height="19.5"/>
<rect x="956.1" y="711.0" width="19.5" height="19.5"/>
<rect x="956.7" y="716.8" width="19.5" height="19.5"/>
<rect x="957.2" y="717.6" width="19.5" height="19.5"/>
<rect x="957.8" y="718.3" width="19.5" height="19.5"/>
<rect x="958.3" y="719.3" width="19.5" height="19.5"/>
<rect x="958.9" y="718.8" width="19.5" height="19.5"/>
<rect x="959.4" y="715.4" width="19.5" height="19.5"/>
<rect x="960.0" y="717.1" width="19.5" height="19.5"/>
<rect x="960.5" y="717.1" width="19.5" height="19.5"/>
<rect x="961.1" y="717.8" width="19.5" height="19.5"/>
<rect x="961.6" y="715.0" width="19.5" height="19.5"/>
<rect x="962.2" y="716.2" width="19.5" height="19.5"/>
</g>
</g>
<line x1="905.00" y1="697.00" x2="1098.00" y2="840.00" stroke="#ff1f1f" stroke-width="3.00"/>
<line x1="976.00" y1="734.00" x2="1126.00" y2="840.00" stroke="#2f5bb7" stroke-width="3.00"/>
<rect x="164.2" y="91" width="3.2" height="753.8" fill="#c0c0c0"/>
<rect x="164.2" y="841.6" width="1008" height="3.2" fill="#c4c4c4"/>
<rect x="1168.4" y="88" width="3.6" height="753.6" fill="#9a9a9a"/>
<rect x="1172" y="88" width="3.2" height="753.6" fill="#5a5a5a"/>
<rect x="167.3" y="88" width="1007.9" height="6.2" fill="#7f7f7f"/>
<rect x="167.3" y="94" width="3.6" height="747.6" fill="#4a4a4a"/>
<rect x="167.3" y="838.3" width="1004.7" height="3.4" fill="#4a4a4a"/>
<line x1="170" y1="840.0" x2="185.0" y2="840.0" stroke="#383838" stroke-width="4"/>
<line x1="1170" y1="840.0" x2="1155.0" y2="840.0" stroke="#383838" stroke-width="4"/>
<line x1="170" y1="750.9" x2="178.0" y2="750.9" stroke="#383838" stroke-width="4"/>
<line x1="1170" y1="750.9" x2="1162.0" y2="750.9" stroke="#383838" stroke-width="4"/>
<line x1="170" y1="661.8" x2="185.0" y2="661.8" stroke="#383838" stroke-width="4"/>
<line x1="1170" y1="661.8" x2="1155.0" y2="661.8" stroke="#383838" stroke-width="4"/>
<line x1="170" y1="572.6" x2="178.0" y2="572.6" stroke="#383838" stroke-width="4"/>
<line x1="1170" y1="572.6" x2="1162.0" y2="572.6" stroke="#383838" stroke-width="4"/>
<line x1="170" y1="483.5" x2="185.0" y2="483.5" stroke="#383838" stroke-width="4"/>
<line x1="1170" y1="483.5" x2="1155.0" y2="483.5" stroke="#383838" stroke-width="4"/>
<line x1="170" y1="394.4" x2="178.0" y2="394.4" stroke="#383838" stroke-width="4"/>
<line x1="1170" y1="394.4" x2="1162.0" y2="394.4" stroke="#383838" stroke-width="4"/>
<line x1="170" y1="305.2" x2="185.0" y2="305.2" stroke="#383838" stroke-width="4"/>
<line x1="1170" y1="305.2" x2="1155.0" y2="305.2" stroke="#383838" stroke-width="4"/>
<line x1="170" y1="216.1" x2="178.0" y2="216.1" stroke="#383838" stroke-width="4"/>
<line x1="1170" y1="216.1" x2="1162.0" y2="216.1" stroke="#383838" stroke-width="4"/>
<line x1="170" y1="127.0" x2="185.0" y2="127.0" stroke="#383838" stroke-width="4"/>
<line x1="1170" y1="127.0" x2="1155.0" y2="127.0" stroke="#383838" stroke-width="4"/>
<line x1="319.5" y1="93" x2="319.5" y2="100.0" stroke="#383838" stroke-width="4"/>
<line x1="319.5" y1="838" x2="319.5" y2="831.0" stroke="#383838" stroke-width="4"/>
<line x1="407.8" y1="93" x2="407.8" y2="100.0" stroke="#383838" stroke-width="4"/>
<line x1="407.8" y1="838" x2="407.8" y2="831.0" stroke="#383838" stroke-width="4"/>
<line x1="470.4" y1="93" x2="470.4" y2="100.0" stroke="#383838" stroke-width="4"/>
<line x1="470.4" y1="838" x2="470.4" y2="831.0" stroke="#383838" stroke-width="4"/>
<line x1="519.0" y1="93" x2="519.0" y2="100.0" stroke="#383838" stroke-width="4"/>
<line x1="519.0" y1="838" x2="519.0" y2="831.0" stroke="#383838" stroke-width="4"/>
<line x1="558.7" y1="93" x2="558.7" y2="100.0" stroke="#383838" stroke-width="4"/>
<line x1="558.7" y1="838" x2="558.7" y2="831.0" stroke="#383838" stroke-width="4"/>
<line x1="592.3" y1="93" x2="592.3" y2="100.0" stroke="#383838" stroke-width="4"/>
<line x1="592.3" y1="838" x2="592.3" y2="831.0" stroke="#383838" stroke-width="4"/>
<line x1="621.4" y1="93" x2="621.4" y2="100.0" stroke="#383838" stroke-width="4"/>
<line x1="621.4" y1="838" x2="621.4" y2="831.0" stroke="#383838" stroke-width="4"/>
<line x1="647.1" y1="93" x2="647.1" y2="100.0" stroke="#383838" stroke-width="4"/>
<line x1="647.1" y1="838" x2="647.1" y2="831.0" stroke="#383838" stroke-width="4"/>
<line x1="670.0" y1="93" x2="670.0" y2="106.0" stroke="#383838" stroke-width="4"/>
<line x1="670.0" y1="838" x2="670.0" y2="825.0" stroke="#383838" stroke-width="4"/>
<line x1="821.0" y1="93" x2="821.0" y2="100.0" stroke="#383838" stroke-width="4"/>
<line x1="821.0" y1="838" x2="821.0" y2="831.0" stroke="#383838" stroke-width="4"/>
<line x1="909.3" y1="93" x2="909.3" y2="100.0" stroke="#383838" stroke-width="4"/>
<line x1="909.3" y1="838" x2="909.3" y2="831.0" stroke="#383838" stroke-width="4"/>
<line x1="971.9" y1="93" x2="971.9" y2="100.0" stroke="#383838" stroke-width="4"/>
<line x1="971.9" y1="838" x2="971.9" y2="831.0" stroke="#383838" stroke-width="4"/>
<line x1="1020.5" y1="93" x2="1020.5" y2="100.0" stroke="#383838" stroke-width="4"/>
<line x1="1020.5" y1="838" x2="1020.5" y2="831.0" stroke="#383838" stroke-width="4"/>
<line x1="1060.2" y1="93" x2="1060.2" y2="100.0" stroke="#383838" stroke-width="4"/>
<line x1="1060.2" y1="838" x2="1060.2" y2="831.0" stroke="#383838" stroke-width="4"/>
<line x1="1093.8" y1="93" x2="1093.8" y2="100.0" stroke="#383838" stroke-width="4"/>
<line x1="1093.8" y1="838" x2="1093.8" y2="831.0" stroke="#383838" stroke-width="4"/>
<line x1="1122.9" y1="93" x2="1122.9" y2="100.0" stroke="#383838" stroke-width="4"/>
<line x1="1122.9" y1="838" x2="1122.9" y2="831.0" stroke="#383838" stroke-width="4"/>
<line x1="1148.6" y1="93" x2="1148.6" y2="100.0" stroke="#383838" stroke-width="4"/>
<line x1="1148.6" y1="838" x2="1148.6" y2="831.0" stroke="#383838" stroke-width="4"/>
<line x1="683.50" y1="750.00" x2="1050.34" y2="824.61" stroke="#111" stroke-width="3.00"/>
<polygon points="1067.00,828.00 1047.97,831.27 1050.76,817.55" fill="#111"/>
<line x1="971.70" y1="557.00" x2="1110.65" y2="802.96" stroke="#111" stroke-width="3.00"/>
<polygon points="1120.00,819.50 1104.07,805.53 1116.26,798.64" fill="#111"/>
<g fill="none" stroke="#8c8c8c" stroke-width="2.4" stroke-linejoin="miter">
<polygon points="2129.2,255.5 2139.2,272.5 2119.2,272.5"/>
<polygon points="2131.4,287.3 2141.4,304.3 2121.4,304.3"/>
<polygon points="1977.7,314.5 1987.7,331.5 1967.7,331.5"/>
<polygon points="2085.0,337.2 2095.0,354.2 2075.0,354.2"/>
<polygon points="2014.6,373.5 2024.6,390.5 2004.6,390.5"/>
<polygon points="1977.2,396.5 1987.2,413.5 1967.2,413.5"/>
<polygon points="1977.2,415.7 1987.2,432.7 1967.2,432.7"/>
<polygon points="1977.2,437.3 1987.2,454.3 1967.2,454.3"/>
<polygon points="1938.8,442.1 1948.8,459.1 1928.8,459.1"/>
<polygon points="1938.8,461.3 1948.8,478.3 1928.8,478.3"/>
<polygon points="1938.8,514.1 1948.8,531.1 1928.8,531.1"/>
<polygon points="1878.8,487.2 1888.8,504.2 1868.8,504.2"/>
<polygon points="2080.4,490.1 2090.4,507.1 2070.4,507.1"/>
<polygon points="1761.3,498.1 1771.3,515.1 1751.3,515.1"/>
<polygon points="1907.0,553.7 1917.0,570.7 1897.0,570.7"/>
<polygon points="1977.2,542.9 1987.2,559.9 1967.2,559.9"/>
<polygon points="1878.8,612.5 1888.8,629.5 1868.8,629.5"/>
<polygon points="1631.6,611.0 1641.6,628.0 1621.6,628.0"/>
<polygon points="1977.2,652.1 1987.2,669.1 1967.2,669.1"/>
<polygon points="1801.8,646.1 1811.8,663.1 1791.8,663.1"/>
<polygon points="1764.8,653.5 1774.8,670.5 1754.8,670.5"/>
<polygon points="1601.5,704.5 1611.5,721.5 1591.5,721.5"/>
<polygon points="1687.0,704.5 1697.0,721.5 1677.0,721.5"/>
<polygon points="1709.4,704.5 1719.4,721.5 1699.4,721.5"/>
<polygon points="1687.0,751.9 1697.0,768.9 1677.0,768.9"/>
<polygon points="1631.6,783.8 1641.6,800.8 1621.6,800.8"/>
<polygon points="1709.4,783.8 1719.4,800.8 1699.4,800.8"/>
</g>
<g fill="#0000f0">
<circle cx="1832.5" cy="563.0" r="18.5"/>
<circle cx="1798.0" cy="599.4" r="18.5"/>
<circle cx="1834.2" cy="622.0" r="18.5"/>
<circle cx="1816.0" cy="593.7" r="18.0"/>
<circle cx="1819.0" cy="608.0" r="18.0"/>
<circle cx="1822.0" cy="580.0" r="18.0"/>
<circle cx="1812.0" cy="588.0" r="18.0"/>
<circle cx="1806.0" cy="606.0" r="18.0"/>
<circle cx="1826.0" cy="612.0" r="18.0"/>
<circle cx="1719.0" cy="660.0" r="18.0"/>
<circle cx="1742.0" cy="667.0" r="18.0"/>
<circle cx="1747.0" cy="682.0" r="18.0"/>
<circle cx="1730.0" cy="668.0" r="18.0"/>
<circle cx="1736.0" cy="674.0" r="18.0"/>
<circle cx="1725.0" cy="663.0" r="18.0"/>
<circle cx="1938.8" cy="495.7" r="15.6"/>
<circle cx="2024.7" cy="495.7" r="15.6"/>
</g>
<g fill="#ff0000">
<polygon points="1977.2,455.8 1996.2,474.8 1977.2,493.8 1958.2,474.8"/>
<polygon points="2024.7,437.3 2043.7,456.3 2024.7,475.3 2005.7,456.3"/>
<polygon points="2084.8,410.2 2103.8,429.2 2084.8,448.2 2065.8,429.2"/>
<polygon points="2170.6,422.0 2189.6,441.0 2170.6,460.0 2151.6,441.0"/>
</g>
<rect x="2162.8" y="423" width="24" height="23" fill="#007d10"/>
<line x1="1568.0" y1="694.5" x2="2145.0" y2="241.0" stroke="#333" stroke-width="3" stroke-dasharray="16 17"/>
<line x1="1568.0" y1="778.3" x2="2251.5" y2="241.0" stroke="#333" stroke-width="3" stroke-dasharray="16 17"/>
<line x1="1922.50" y1="354.50" x2="1975.00" y2="354.50" stroke="#ff0000" stroke-width="5.00"/>
<polygon points="1994.00,354.50 1974.00,363.50 1974.00,345.50" fill="#ff0000"/>
<line x1="1805.60" y1="778.60" x2="1626.00" y2="778.60" stroke="#ff0000" stroke-width="5.00"/>
<polygon points="1607.00,778.60 1627.00,769.60 1627.00,787.60" fill="#ff0000"/>
<line x1="2091.20" y1="570.80" x2="2091.20" y2="484.60" stroke="#ff0000" stroke-width="5.00"/>
<polygon points="2091.20,465.60 2100.20,485.60 2082.20,485.60" fill="#ff0000"/>
<rect x="1541.6" y="116" width="773.9" height="759.5" fill="none" stroke="#000" stroke-width="7"/>
<line x1="1542" y1="829.4" x2="1561.0" y2="829.4" stroke="#000" stroke-width="6"/>
<line x1="2315" y1="829.4" x2="2296.0" y2="829.4" stroke="#000" stroke-width="6"/>
<line x1="1542" y1="792.5" x2="1561.0" y2="792.5" stroke="#000" stroke-width="6"/>
<line x1="2315" y1="792.5" x2="2296.0" y2="792.5" stroke="#000" stroke-width="6"/>
<line x1="1542" y1="762.3" x2="1561.0" y2="762.3" stroke="#000" stroke-width="6"/>
<line x1="2315" y1="762.3" x2="2296.0" y2="762.3" stroke="#000" stroke-width="6"/>
<line x1="1542" y1="736.8" x2="1561.0" y2="736.8" stroke="#000" stroke-width="6"/>
<line x1="2315" y1="736.8" x2="2296.0" y2="736.8" stroke="#000" stroke-width="6"/>
<line x1="1542" y1="714.7" x2="1561.0" y2="714.7" stroke="#000" stroke-width="6"/>
<line x1="2315" y1="714.7" x2="2296.0" y2="714.7" stroke="#000" stroke-width="6"/>
<line x1="1542" y1="695.2" x2="1561.0" y2="695.2" stroke="#000" stroke-width="6"/>
<line x1="2315" y1="695.2" x2="2296.0" y2="695.2" stroke="#000" stroke-width="6"/>
<line x1="1542" y1="677.8" x2="1574.0" y2="677.8" stroke="#000" stroke-width="6"/>
<line x1="2315" y1="677.8" x2="2283.0" y2="677.8" stroke="#000" stroke-width="6"/>
<line x1="1542" y1="563.1" x2="1561.0" y2="563.1" stroke="#000" stroke-width="6"/>
<line x1="2315" y1="563.1" x2="2296.0" y2="563.1" stroke="#000" stroke-width="6"/>
<line x1="1542" y1="496.0" x2="1561.0" y2="496.0" stroke="#000" stroke-width="6"/>
<line x1="2315" y1="496.0" x2="2296.0" y2="496.0" stroke="#000" stroke-width="6"/>
<line x1="1542" y1="448.4" x2="1561.0" y2="448.4" stroke="#000" stroke-width="6"/>
<line x1="2315" y1="448.4" x2="2296.0" y2="448.4" stroke="#000" stroke-width="6"/>
<line x1="1542" y1="411.5" x2="1561.0" y2="411.5" stroke="#000" stroke-width="6"/>
<line x1="2315" y1="411.5" x2="2296.0" y2="411.5" stroke="#000" stroke-width="6"/>
<line x1="1542" y1="381.3" x2="1561.0" y2="381.3" stroke="#000" stroke-width="6"/>
<line x1="2315" y1="381.3" x2="2296.0" y2="381.3" stroke="#000" stroke-width="6"/>
<line x1="1542" y1="355.8" x2="1561.0" y2="355.8" stroke="#000" stroke-width="6"/>
<line x1="2315" y1="355.8" x2="2296.0" y2="355.8" stroke="#000" stroke-width="6"/>
<line x1="1542" y1="333.7" x2="1561.0" y2="333.7" stroke="#000" stroke-width="6"/>
<line x1="2315" y1="333.7" x2="2296.0" y2="333.7" stroke="#000" stroke-width="6"/>
<line x1="1542" y1="314.2" x2="1561.0" y2="314.2" stroke="#000" stroke-width="6"/>
<line x1="2315" y1="314.2" x2="2296.0" y2="314.2" stroke="#000" stroke-width="6"/>
<line x1="1542" y1="296.8" x2="1574.0" y2="296.8" stroke="#000" stroke-width="6"/>
<line x1="2315" y1="296.8" x2="2283.0" y2="296.8" stroke="#000" stroke-width="6"/>
<line x1="1542" y1="182.1" x2="1561.0" y2="182.1" stroke="#000" stroke-width="6"/>
<line x1="2315" y1="182.1" x2="2296.0" y2="182.1" stroke="#000" stroke-width="6"/>
<line x1="1687.0" y1="875" x2="1687.0" y2="842.0" stroke="#000" stroke-width="6"/>
<line x1="1709.1" y1="875" x2="1709.1" y2="855.0" stroke="#000" stroke-width="6"/>
<line x1="1733.7" y1="875" x2="1733.7" y2="855.0" stroke="#000" stroke-width="6"/>
<line x1="1761.7" y1="875" x2="1761.7" y2="855.0" stroke="#000" stroke-width="6"/>
<line x1="1793.9" y1="875" x2="1793.9" y2="855.0" stroke="#000" stroke-width="6"/>
<line x1="1832.1" y1="875" x2="1832.1" y2="855.0" stroke="#000" stroke-width="6"/>
<line x1="1878.8" y1="875" x2="1878.8" y2="855.0" stroke="#000" stroke-width="6"/>
<line x1="1939.0" y1="875" x2="1939.0" y2="855.0" stroke="#000" stroke-width="6"/>
<line x1="2023.9" y1="875" x2="2023.9" y2="855.0" stroke="#000" stroke-width="6"/>
<line x1="2169.0" y1="875" x2="2169.0" y2="842.0" stroke="#000" stroke-width="6"/>
<line x1="2191.1" y1="875" x2="2191.1" y2="855.0" stroke="#000" stroke-width="6"/>
<line x1="2215.7" y1="875" x2="2215.7" y2="855.0" stroke="#000" stroke-width="6"/>
<line x1="2243.7" y1="875" x2="2243.7" y2="855.0" stroke="#000" stroke-width="6"/>
<line x1="2275.9" y1="875" x2="2275.9" y2="855.0" stroke="#000" stroke-width="6"/>
<rect x="1572" y="30.6" width="799" height="207.6" fill="#fff" stroke="#1a1a1a" stroke-width="6.5"/>
<polygon points="1608.0,47.4 1631.4,70.8 1608.0,94.2 1584.6,70.8" fill="#ff0000"/>
<circle cx="1608.7" cy="136.8" r="17.4" fill="#0000f0"/>
<polygon points="1609.2,194 1628,225 1590.4,225" fill="none" stroke="#222" stroke-width="3.5"/>
<g stroke="#e6e6e6" stroke-width="3.6"><line x1="682.0" y1="1103.5" x2="682.0" y2="1854.3"/><line x1="747.0" y1="1103.5" x2="747.0" y2="1854.3"/><line x1="800.1" y1="1103.5" x2="800.1" y2="1854.3"/><line x1="845.1" y1="1103.5" x2="845.1" y2="1854.3"/><line x1="884.0" y1="1103.5" x2="884.0" y2="1854.3"/><line x1="918.3" y1="1103.5" x2="918.3" y2="1854.3"/><line x1="949.0" y1="1103.5" x2="949.0" y2="1854.3"/><line x1="1151.0" y1="1103.5" x2="1151.0" y2="1854.3"/><line x1="1269.1" y1="1103.5" x2="1269.1" y2="1854.3"/><line x1="1353.0" y1="1103.5" x2="1353.0" y2="1854.3"/><line x1="1418.0" y1="1103.5" x2="1418.0" y2="1854.3"/><line x1="1471.1" y1="1103.5" x2="1471.1" y2="1854.3"/><line x1="1516.1" y1="1103.5" x2="1516.1" y2="1854.3"/><line x1="1555.0" y1="1103.5" x2="1555.0" y2="1854.3"/><line x1="1589.3" y1="1103.5" x2="1589.3" y2="1854.3"/><line x1="1620.0" y1="1103.5" x2="1620.0" y2="1854.3"/><line x1="597.5" y1="1779.5" x2="1822.5" y2="1779.5"/><line x1="597.5" y1="1734.8" x2="1822.5" y2="1734.8"/><line x1="597.5" y1="1703.1" x2="1822.5" y2="1703.1"/><line x1="597.5" y1="1678.5" x2="1822.5" y2="1678.5"/><line x1="597.5" y1="1658.3" x2="1822.5" y2="1658.3"/><line x1="597.5" y1="1641.3" x2="1822.5" y2="1641.3"/><line x1="597.5" y1="1626.6" x2="1822.5" y2="1626.6"/><line x1="597.5" y1="1613.6" x2="1822.5" y2="1613.6"/><line x1="597.5" y1="1602.0" x2="1822.5" y2="1602.0"/><line x1="597.5" y1="1525.5" x2="1822.5" y2="1525.5"/><line x1="597.5" y1="1480.8" x2="1822.5" y2="1480.8"/><line x1="597.5" y1="1449.1" x2="1822.5" y2="1449.1"/><line x1="597.5" y1="1424.5" x2="1822.5" y2="1424.5"/><line x1="597.5" y1="1404.3" x2="1822.5" y2="1404.3"/><line x1="597.5" y1="1387.3" x2="1822.5" y2="1387.3"/><line x1="597.5" y1="1372.6" x2="1822.5" y2="1372.6"/><line x1="597.5" y1="1359.6" x2="1822.5" y2="1359.6"/><line x1="597.5" y1="1348.0" x2="1822.5" y2="1348.0"/><line x1="597.5" y1="1271.5" x2="1822.5" y2="1271.5"/><line x1="597.5" y1="1226.8" x2="1822.5" y2="1226.8"/><line x1="597.5" y1="1195.1" x2="1822.5" y2="1195.1"/><line x1="597.5" y1="1170.5" x2="1822.5" y2="1170.5"/><line x1="597.5" y1="1150.3" x2="1822.5" y2="1150.3"/><line x1="597.5" y1="1133.3" x2="1822.5" y2="1133.3"/><line x1="597.5" y1="1118.6" x2="1822.5" y2="1118.6"/></g>
<rect x="1521" y="1509" width="298" height="89" fill="#fff"/>
<rect x="1714" y="1776" width="105" height="8" fill="#fff"/>
<line x1="597.5" y1="1779.5" x2="608.5" y2="1779.5" stroke="#222" stroke-width="3.6"/>
<line x1="1822.5" y1="1779.5" x2="1811.5" y2="1779.5" stroke="#222" stroke-width="3.6"/>
<line x1="597.5" y1="1734.8" x2="608.5" y2="1734.8" stroke="#222" stroke-width="3.6"/>
<line x1="1822.5" y1="1734.8" x2="1811.5" y2="1734.8" stroke="#222" stroke-width="3.6"/>
<line x1="597.5" y1="1703.1" x2="608.5" y2="1703.1" stroke="#222" stroke-width="3.6"/>
<line x1="1822.5" y1="1703.1" x2="1811.5" y2="1703.1" stroke="#222" stroke-width="3.6"/>
<line x1="597.5" y1="1678.5" x2="608.5" y2="1678.5" stroke="#222" stroke-width="3.6"/>
<line x1="1822.5" y1="1678.5" x2="1811.5" y2="1678.5" stroke="#222" stroke-width="3.6"/>
<line x1="597.5" y1="1658.3" x2="608.5" y2="1658.3" stroke="#222" stroke-width="3.6"/>
<line x1="1822.5" y1="1658.3" x2="1811.5" y2="1658.3" stroke="#222" stroke-width="3.6"/>
<line x1="597.5" y1="1641.3" x2="608.5" y2="1641.3" stroke="#222" stroke-width="3.6"/>
<line x1="1822.5" y1="1641.3" x2="1811.5" y2="1641.3" stroke="#222" stroke-width="3.6"/>
<line x1="597.5" y1="1626.6" x2="608.5" y2="1626.6" stroke="#222" stroke-width="3.6"/>
<line x1="1822.5" y1="1626.6" x2="1811.5" y2="1626.6" stroke="#222" stroke-width="3.6"/>
<line x1="597.5" y1="1613.6" x2="608.5" y2="1613.6" stroke="#222" stroke-width="3.6"/>
<line x1="1822.5" y1="1613.6" x2="1811.5" y2="1613.6" stroke="#222" stroke-width="3.6"/>
<line x1="597.5" y1="1602.0" x2="614.5" y2="1602.0" stroke="#222" stroke-width="3.6"/>
<line x1="1822.5" y1="1602.0" x2="1805.5" y2="1602.0" stroke="#222" stroke-width="3.6"/>
<line x1="597.5" y1="1525.5" x2="608.5" y2="1525.5" stroke="#222" stroke-width="3.6"/>
<line x1="1822.5" y1="1525.5" x2="1811.5" y2="1525.5" stroke="#222" stroke-width="3.6"/>
<line x1="597.5" y1="1480.8" x2="608.5" y2="1480.8" stroke="#222" stroke-width="3.6"/>
<line x1="1822.5" y1="1480.8" x2="1811.5" y2="1480.8" stroke="#222" stroke-width="3.6"/>
<line x1="597.5" y1="1449.1" x2="608.5" y2="1449.1" stroke="#222" stroke-width="3.6"/>
<line x1="1822.5" y1="1449.1" x2="1811.5" y2="1449.1" stroke="#222" stroke-width="3.6"/>
<line x1="597.5" y1="1424.5" x2="608.5" y2="1424.5" stroke="#222" stroke-width="3.6"/>
<line x1="1822.5" y1="1424.5" x2="1811.5" y2="1424.5" stroke="#222" stroke-width="3.6"/>
<line x1="597.5" y1="1404.3" x2="608.5" y2="1404.3" stroke="#222" stroke-width="3.6"/>
<line x1="1822.5" y1="1404.3" x2="1811.5" y2="1404.3" stroke="#222" stroke-width="3.6"/>
<line x1="597.5" y1="1387.3" x2="608.5" y2="1387.3" stroke="#222" stroke-width="3.6"/>
<line x1="1822.5" y1="1387.3" x2="1811.5" y2="1387.3" stroke="#222" stroke-width="3.6"/>
<line x1="597.5" y1="1372.6" x2="608.5" y2="1372.6" stroke="#222" stroke-width="3.6"/>
<line x1="1822.5" y1="1372.6" x2="1811.5" y2="1372.6" stroke="#222" stroke-width="3.6"/>
<line x1="597.5" y1="1359.6" x2="608.5" y2="1359.6" stroke="#222" stroke-width="3.6"/>
<line x1="1822.5" y1="1359.6" x2="1811.5" y2="1359.6" stroke="#222" stroke-width="3.6"/>
<line x1="597.5" y1="1348.0" x2="614.5" y2="1348.0" stroke="#222" stroke-width="3.6"/>
<line x1="1822.5" y1="1348.0" x2="1805.5" y2="1348.0" stroke="#222" stroke-width="3.6"/>
<line x1="597.5" y1="1271.5" x2="608.5" y2="1271.5" stroke="#222" stroke-width="3.6"/>
<line x1="1822.5" y1="1271.5" x2="1811.5" y2="1271.5" stroke="#222" stroke-width="3.6"/>
<line x1="597.5" y1="1226.8" x2="608.5" y2="1226.8" stroke="#222" stroke-width="3.6"/>
<line x1="1822.5" y1="1226.8" x2="1811.5" y2="1226.8" stroke="#222" stroke-width="3.6"/>
<line x1="597.5" y1="1195.1" x2="608.5" y2="1195.1" stroke="#222" stroke-width="3.6"/>
<line x1="1822.5" y1="1195.1" x2="1811.5" y2="1195.1" stroke="#222" stroke-width="3.6"/>
<line x1="597.5" y1="1170.5" x2="608.5" y2="1170.5" stroke="#222" stroke-width="3.6"/>
<line x1="1822.5" y1="1170.5" x2="1811.5" y2="1170.5" stroke="#222" stroke-width="3.6"/>
<line x1="597.5" y1="1150.3" x2="608.5" y2="1150.3" stroke="#222" stroke-width="3.6"/>
<line x1="1822.5" y1="1150.3" x2="1811.5" y2="1150.3" stroke="#222" stroke-width="3.6"/>
<line x1="597.5" y1="1133.3" x2="608.5" y2="1133.3" stroke="#222" stroke-width="3.6"/>
<line x1="1822.5" y1="1133.3" x2="1811.5" y2="1133.3" stroke="#222" stroke-width="3.6"/>
<line x1="597.5" y1="1118.6" x2="608.5" y2="1118.6" stroke="#222" stroke-width="3.6"/>
<line x1="1822.5" y1="1118.6" x2="1811.5" y2="1118.6" stroke="#222" stroke-width="3.6"/>
<line x1="682.0" y1="1103.5" x2="682.0" y2="1115.5" stroke="#222" stroke-width="3.6"/>
<line x1="682.0" y1="1854.3" x2="682.0" y2="1842.3" stroke="#222" stroke-width="3.6"/>
<line x1="747.0" y1="1103.5" x2="747.0" y2="1115.5" stroke="#222" stroke-width="3.6"/>
<line x1="747.0" y1="1854.3" x2="747.0" y2="1842.3" stroke="#222" stroke-width="3.6"/>
<line x1="800.1" y1="1103.5" x2="800.1" y2="1115.5" stroke="#222" stroke-width="3.6"/>
<line x1="800.1" y1="1854.3" x2="800.1" y2="1842.3" stroke="#222" stroke-width="3.6"/>
<line x1="845.1" y1="1103.5" x2="845.1" y2="1115.5" stroke="#222" stroke-width="3.6"/>
<line x1="845.1" y1="1854.3" x2="845.1" y2="1842.3" stroke="#222" stroke-width="3.6"/>
<line x1="884.0" y1="1103.5" x2="884.0" y2="1115.5" stroke="#222" stroke-width="3.6"/>
<line x1="884.0" y1="1854.3" x2="884.0" y2="1842.3" stroke="#222" stroke-width="3.6"/>
<line x1="918.3" y1="1103.5" x2="918.3" y2="1115.5" stroke="#222" stroke-width="3.6"/>
<line x1="918.3" y1="1854.3" x2="918.3" y2="1842.3" stroke="#222" stroke-width="3.6"/>
<line x1="949.0" y1="1103.5" x2="949.0" y2="1120.5" stroke="#222" stroke-width="3.6"/>
<line x1="949.0" y1="1854.3" x2="949.0" y2="1837.3" stroke="#222" stroke-width="3.6"/>
<line x1="1151.0" y1="1103.5" x2="1151.0" y2="1115.5" stroke="#222" stroke-width="3.6"/>
<line x1="1151.0" y1="1854.3" x2="1151.0" y2="1842.3" stroke="#222" stroke-width="3.6"/>
<line x1="1269.1" y1="1103.5" x2="1269.1" y2="1115.5" stroke="#222" stroke-width="3.6"/>
<line x1="1269.1" y1="1854.3" x2="1269.1" y2="1842.3" stroke="#222" stroke-width="3.6"/>
<line x1="1353.0" y1="1103.5" x2="1353.0" y2="1115.5" stroke="#222" stroke-width="3.6"/>
<line x1="1353.0" y1="1854.3" x2="1353.0" y2="1842.3" stroke="#222" stroke-width="3.6"/>
<line x1="1418.0" y1="1103.5" x2="1418.0" y2="1115.5" stroke="#222" stroke-width="3.6"/>
<line x1="1418.0" y1="1854.3" x2="1418.0" y2="1842.3" stroke="#222" stroke-width="3.6"/>
<line x1="1471.1" y1="1103.5" x2="1471.1" y2="1115.5" stroke="#222" stroke-width="3.6"/>
<line x1="1471.1" y1="1854.3" x2="1471.1" y2="1842.3" stroke="#222" stroke-width="3.6"/>
<line x1="1516.1" y1="1103.5" x2="1516.1" y2="1115.5" stroke="#222" stroke-width="3.6"/>
<line x1="1516.1" y1="1854.3" x2="1516.1" y2="1842.3" stroke="#222" stroke-width="3.6"/>
<line x1="1555.0" y1="1103.5" x2="1555.0" y2="1115.5" stroke="#222" stroke-width="3.6"/>
<line x1="1555.0" y1="1854.3" x2="1555.0" y2="1842.3" stroke="#222" stroke-width="3.6"/>
<line x1="1589.3" y1="1103.5" x2="1589.3" y2="1115.5" stroke="#222" stroke-width="3.6"/>
<line x1="1589.3" y1="1854.3" x2="1589.3" y2="1842.3" stroke="#222" stroke-width="3.6"/>
<line x1="1620.0" y1="1103.5" x2="1620.0" y2="1120.5" stroke="#222" stroke-width="3.6"/>
<line x1="1620.0" y1="1854.3" x2="1620.0" y2="1837.3" stroke="#222" stroke-width="3.6"/>
<rect x="597.5" y="1103.5" width="1225.0" height="750.8" fill="none" stroke="#262626" stroke-width="6"/>
<rect x="613" y="1122.5" width="560" height="318.5" fill="#fff" stroke="#9a9a9a" stroke-width="3.5"/>
<g fill="#d24fa9">
<circle cx="1204.0" cy="1394.5" r="17"/>
<circle cx="1247.3" cy="1341.6" r="17"/>
<circle cx="1268.9" cy="1339.2" r="17"/>
<circle cx="1268.9" cy="1365.6" r="17"/>
<circle cx="1337.3" cy="1348.8" r="17"/>
<circle cx="1406.2" cy="1341.4" r="17"/>
<circle cx="1446.0" cy="1278.6" r="17"/>
<circle cx="1554.0" cy="1283.9" r="17"/>
<circle cx="1668.4" cy="1270.7" r="17"/>
<circle cx="1673.6" cy="1217.8" r="17"/>
<circle cx="1708.0" cy="1190.4" r="17"/>
<circle cx="1228.0" cy="1590.7" r="17"/>
</g>
<g fill="#1db33c">
<circle cx="746.0" cy="1656.5" r="15.5"/>
<circle cx="800.0" cy="1619.2" r="15.5"/>
<circle cx="1127.0" cy="1550.8" r="15.5"/>
<circle cx="1313.6" cy="1541.6" r="15.5"/>
</g>
<g fill="#ff1a1a">
<rect x="1071.3" y="1502.5" width="29" height="29"/>
<rect x="1137.5" y="1504.3" width="29" height="29"/>
<rect x="1137.5" y="1561.3" width="29" height="29"/>
<rect x="1137.5" y="1702.5" width="29" height="29"/>
<rect x="1032.8" y="1765.1" width="29" height="29"/>
</g>
<polyline points="1151.0,1602.7 1270.0,1524.2 1351.6,1482.2 1418.8,1448.6" fill="none" stroke="#ff8a8a" stroke-width="3"/>
<polygon points="1151.0,1574.7 1158.9,1591.9 1177.6,1594.0 1163.7,1606.8 1167.5,1625.4 1151.0,1616.1 1134.5,1625.4 1138.3,1606.8 1124.4,1594.0 1143.1,1591.9" fill="#ff2a10" stroke="#ff2a10" stroke-width="8" stroke-linejoin="round"/>
<polygon points="1151.0,1574.7 1158.9,1591.9 1177.6,1594.0 1163.7,1606.8 1167.5,1625.4 1151.0,1616.1 1134.5,1625.4 1138.3,1606.8 1124.4,1594.0 1143.1,1591.9" fill="#ff8c00"/>
<polygon points="1151.0,1579.8 1157.6,1594.2 1173.3,1596.0 1161.7,1606.8 1164.8,1622.3 1151.0,1614.5 1137.2,1622.3 1140.3,1606.8 1128.7,1596.0 1144.4,1594.2" fill="#fff000"/>
<polygon points="1270.0,1496.2 1277.9,1513.4 1296.6,1515.5 1282.7,1528.3 1286.5,1546.9 1270.0,1537.6 1253.5,1546.9 1257.3,1528.3 1243.4,1515.5 1262.1,1513.4" fill="#ff2a10" stroke="#ff2a10" stroke-width="8" stroke-linejoin="round"/>
<polygon points="1270.0,1496.2 1277.9,1513.4 1296.6,1515.5 1282.7,1528.3 1286.5,1546.9 1270.0,1537.6 1253.5,1546.9 1257.3,1528.3 1243.4,1515.5 1262.1,1513.4" fill="#ff8c00"/>
<polygon points="1270.0,1501.3 1276.6,1515.7 1292.3,1517.5 1280.7,1528.3 1283.8,1543.8 1270.0,1536.0 1256.2,1543.8 1259.3,1528.3 1247.7,1517.5 1263.4,1515.7" fill="#fff000"/>
<polygon points="1351.6,1454.2 1359.5,1471.4 1378.2,1473.5 1364.3,1486.3 1368.1,1504.9 1351.6,1495.6 1335.1,1504.9 1338.9,1486.3 1325.0,1473.5 1343.7,1471.4" fill="#ff2a10" stroke="#ff2a10" stroke-width="8" stroke-linejoin="round"/>
<polygon points="1351.6,1454.2 1359.5,1471.4 1378.2,1473.5 1364.3,1486.3 1368.1,1504.9 1351.6,1495.6 1335.1,1504.9 1338.9,1486.3 1325.0,1473.5 1343.7,1471.4" fill="#ff8c00"/>
<polygon points="1351.6,1459.3 1358.2,1473.7 1373.9,1475.5 1362.3,1486.3 1365.4,1501.8 1351.6,1494.0 1337.8,1501.8 1340.9,1486.3 1329.3,1475.5 1345.0,1473.7" fill="#fff000"/>
<polygon points="1418.8,1420.6 1426.7,1437.8 1445.4,1439.9 1431.5,1452.7 1435.3,1471.3 1418.8,1462.0 1402.3,1471.3 1406.1,1452.7 1392.2,1439.9 1410.9,1437.8" fill="#ff2a10" stroke="#ff2a10" stroke-width="8" stroke-linejoin="round"/>
<polygon points="1418.8,1420.6 1426.7,1437.8 1445.4,1439.9 1431.5,1452.7 1435.3,1471.3 1418.8,1462.0 1402.3,1471.3 1406.1,1452.7 1392.2,1439.9 1410.9,1437.8" fill="#ff8c00"/>
<polygon points="1418.8,1425.7 1425.4,1440.1 1441.1,1441.9 1429.5,1452.7 1432.6,1468.2 1418.8,1460.4 1405.0,1468.2 1408.1,1452.7 1396.5,1441.9 1412.2,1440.1" fill="#fff000"/>
<g fill="#1a8a8a">
<polygon points="1353.3,1527.4 1371.8,1497.4 1334.8,1497.4"/>
<polygon points="1418.8,1493.8 1437.3,1463.8 1400.3,1463.8"/>
<polygon points="1442.3,1503.9 1460.8,1473.9 1423.8,1473.9"/>
<polygon points="1555.0,1451.0 1573.5,1421.0 1536.5,1421.0"/>
<polygon points="1494.6,1395.4 1513.1,1365.4 1476.1,1365.4"/>
</g>
<g fill="#2a4fb5">
<polygon points="1516.3,1504.5 1535.8,1537.5 1496.8,1537.5"/>
<polygon points="1418.8,1580.2 1438.3,1613.2 1399.3,1613.2"/>
<polygon points="1249.1,1635.5 1268.6,1668.5 1229.6,1668.5"/>
</g>
<path d="M1803,1542 q5,12 0,26" fill="none" stroke="#ff4040" stroke-width="4"/>
<line x1="1602.40" y1="1191.00" x2="1663.00" y2="1191.00" stroke="#111" stroke-width="3.50"/>
<polygon points="1680.00,1191.00 1662.00,1198.00 1662.00,1184.00" fill="#111"/>
<line x1="1011.50" y1="1518.80" x2="1045.00" y2="1518.80" stroke="#111" stroke-width="3.50"/>
<polygon points="1062.00,1518.80 1044.00,1525.80 1044.00,1511.80" fill="#111"/>
<line x1="1032.70" y1="1589.20" x2="1116.21" y2="1541.88" stroke="#111" stroke-width="3.50"/>
<polygon points="1131.00,1533.50 1118.79,1548.46 1111.89,1536.28" fill="#111"/>
<line x1="1242.40" y1="1717.40" x2="1193.00" y2="1717.40" stroke="#111" stroke-width="3.50"/>
<polygon points="1176.00,1717.40 1194.00,1710.40 1194.00,1724.40" fill="#111"/>
<line x1="1534.80" y1="1477.00" x2="1461.52" y2="1459.29" stroke="#ff2020" stroke-width="4.00"/>
<polygon points="1445.00,1455.30 1464.38,1451.75 1460.62,1467.30" fill="#ff2020"/>
<polygon points="689.2,1153.2 707.7,1188.0 670.7,1188.0" fill="#2a4fb5"/>
<circle cx="687.6" cy="1218" r="17.4" fill="#1db33c"/>
<polygon points="689.0,1281.6 707.5,1251.6 670.5,1251.6" fill="#1a8a8a"/>
<circle cx="689" cy="1306.8" r="17" fill="#d24fa9"/>
<rect x="672.4" y="1335.6" width="30.6" height="27.7" fill="#ff1a1a"/>
<polygon points="687.6,1373.5 693.1,1385.5 706.1,1387.0 696.4,1395.9 699.1,1408.8 687.6,1402.3 676.1,1408.8 678.8,1395.9 669.1,1387.0 682.1,1385.5" fill="#ff2a10" stroke="#ff2a10" stroke-width="6" stroke-linejoin="round"/>
<polygon points="687.6,1373.5 693.1,1385.5 706.1,1387.0 696.4,1395.9 699.1,1408.8 687.6,1402.3 676.1,1408.8 678.8,1395.9 669.1,1387.0 682.1,1385.5" fill="#ff8c00"/>
<polygon points="687.6,1378.0 691.9,1387.5 702.3,1388.7 694.6,1395.8 696.7,1406.0 687.6,1400.9 678.5,1406.0 680.6,1395.8 672.9,1388.7 683.3,1387.5" fill="#fff000"/>
<text x="94.20" y="143.17" style="font-family:'Liberation Sans', Arial, sans-serif;font-size:52.87px;font-weight:400;font-style:normal" fill="#111" textLength="57.08" lengthAdjust="spacingAndGlyphs">40</text>
<text x="94.92" y="321.19" style="font-family:'Liberation Sans', Arial, sans-serif;font-size:52.03px;font-weight:400;font-style:normal" fill="#111" textLength="56.34" lengthAdjust="spacingAndGlyphs">30</text>
<text x="94.09" y="499.85" style="font-family:'Liberation Sans', Arial, sans-serif;font-size:54.12px;font-weight:400;font-style:normal" fill="#111" textLength="57.19" lengthAdjust="spacingAndGlyphs">20</text>
<text x="95.89" y="678.20" style="font-family:'Liberation Sans', Arial, sans-serif;font-size:51.48px;font-weight:400;font-style:normal" fill="#111" textLength="55.35" lengthAdjust="spacingAndGlyphs">10</text>
<text x="123.44" y="856.18" style="font-family:'Liberation Sans', Arial, sans-serif;font-size:52.17px;font-weight:400;font-style:normal" fill="#111" textLength="27.81" lengthAdjust="spacingAndGlyphs">0</text>
<text x="155.79" y="897.00" style="font-family:'Liberation Sans', Arial, sans-serif;font-size:52.62px;font-weight:400;font-style:normal" fill="#111" textLength="19.64" lengthAdjust="spacingAndGlyphs">1</text>
<text x="642.83" y="896.20" style="font-family:'Liberation Sans', Arial, sans-serif;font-size:51.48px;font-weight:400;font-style:normal" fill="#111" textLength="56.43" lengthAdjust="spacingAndGlyphs">10</text>
<text x="1130.32" y="896.19" style="font-family:'Liberation Sans', Arial, sans-serif;font-size:51.90px;font-weight:400;font-style:normal" fill="#111" textLength="84.95" lengthAdjust="spacingAndGlyphs">100</text>
<text x="436.21" y="971.46" style="font-family:'Liberation Sans', Arial, sans-serif;font-size:61.90px;font-weight:400;font-style:normal" fill="#111" textLength="469.96" lengthAdjust="spacingAndGlyphs">Frequency (GHz)</text>
<text transform="translate(68.77,0) rotate(-90)" x="-583.38" y="0" style="font-family:'Liberation Sans', Arial, sans-serif;font-size:62.32px;font-weight:400;font-style:normal" fill="#111" textLength="262.76" lengthAdjust="spacingAndGlyphs">Gain (dB)</text>
<text x="448.29" y="307.70" style="font-family:'Liberation Sans', Arial, sans-serif;font-size:57.46px;font-weight:400;font-style:normal" fill="#ff1c1c" textLength="51.71" lengthAdjust="spacingAndGlyphs">|H</text>
<text x="498.49" y="315.00" style="font-family:'Liberation Sans', Arial, sans-serif;font-size:39.11px;font-weight:400;font-style:normal" fill="#ff1c1c" textLength="35.81" lengthAdjust="spacingAndGlyphs">21</text>
<text x="537.28" y="298.91" style="font-family:'Liberation Sans', Arial, sans-serif;font-size:52.98px;font-weight:400;font-style:normal" fill="#ff1c1c">|</text>
<text x="549.89" y="277.40" style="font-family:'Liberation Sans', Arial, sans-serif;font-size:38.97px;font-weight:400;font-style:normal" fill="#ff1c1c" textLength="23.85" lengthAdjust="spacingAndGlyphs">2</text>
<text x="240.82" y="605.15" style="font-family:'Liberation Sans', Arial, sans-serif;font-size:54.26px;font-weight:400;font-style:normal" fill="#2f5bb7" textLength="121.77" lengthAdjust="spacingAndGlyphs">MAG</text>
<text x="852.65" y="208.20" style="font-family:'Liberation Sans', Arial, sans-serif;font-size:55.32px;font-weight:400;font-style:italic" fill="#111" textLength="32.86" lengthAdjust="spacingAndGlyphs">V</text>
<text x="885.01" y="223.41" style="font-family:'Liberation Sans', Arial, sans-serif;font-size:37.98px;font-weight:400;font-style:normal" fill="#111" textLength="52.21" lengthAdjust="spacingAndGlyphs">GS</text>
<text x="949.16" y="208.85" style="font-family:'Liberation Sans', Arial, sans-serif;font-size:54.12px;font-weight:400;font-style:normal" fill="#111" textLength="123.19" lengthAdjust="spacingAndGlyphs">= 0 V</text>
<text x="852.65" y="285.20" style="font-family:'Liberation Sans', Arial, sans-serif;font-size:54.19px;font-weight:400;font-style:italic" fill="#111" textLength="32.86" lengthAdjust="spacingAndGlyphs">V</text>
<text x="883.77" y="301.30" style="font-family:'Liberation Sans', Arial, sans-serif;font-size:38.12px;font-weight:400;font-style:normal" fill="#111" textLength="52.11" lengthAdjust="spacingAndGlyphs">DS</text>
<text x="947.58" y="285.19" style="font-family:'Liberation Sans', Arial, sans-serif;font-size:52.03px;font-weight:400;font-style:normal" fill="#111" textLength="139.17" lengthAdjust="spacingAndGlyphs">= -6 V</text>
<text x="827.29" y="528.00" style="font-family:'Liberation Sans', Arial, sans-serif;font-size:54.74px;font-weight:400;font-style:italic" fill="#111" textLength="15.19" lengthAdjust="spacingAndGlyphs">f</text>
<text x="841.28" y="541.90" style="font-family:'Liberation Sans', Arial, sans-serif;font-size:38.22px;font-weight:400;font-style:normal" fill="#111" textLength="67.12" lengthAdjust="spacingAndGlyphs">max</text>
<text x="923.18" y="527.16" style="font-family:'Liberation Sans', Arial, sans-serif;font-size:53.98px;font-weight:400;font-style:normal" fill="#111" textLength="219.54" lengthAdjust="spacingAndGlyphs">= 80 GHz</text>
<text x="410.15" y="756.00" style="font-family:'Liberation Sans', Arial, sans-serif;font-size:50.93px;font-weight:400;font-style:italic" fill="#111" textLength="16.41" lengthAdjust="spacingAndGlyphs">f</text>
<text x="422.99" y="773.40" style="font-family:'Liberation Sans', Arial, sans-serif;font-size:38.97px;font-weight:400;font-style:normal" fill="#111" textLength="23.67" lengthAdjust="spacingAndGlyphs">T</text>
<text x="461.59" y="756.75" style="font-family:'Liberation Sans', Arial, sans-serif;font-size:54.12px;font-weight:400;font-style:normal" fill="#111" textLength="218.62" lengthAdjust="spacingAndGlyphs">= 70 GHz</text>
<text x="237.47" y="1014.99" style="font-family:'Liberation Sans', Arial, sans-serif;font-size:77.74px;font-weight:400;font-style:normal" fill="#111">(</text>
<text x="268.06" y="1016.55" style="font-family:'Liberation Sans', Arial, sans-serif;font-size:73.60px;font-weight:400;font-style:normal" fill="#111" textLength="32.66" lengthAdjust="spacingAndGlyphs">a</text>
<text x="308.02" y="1014.99" style="font-family:'Liberation Sans', Arial, sans-serif;font-size:77.74px;font-weight:400;font-style:normal" fill="#111">)</text>
<text x="1654.46" y="87.46" style="font-family:'Liberation Sans', Arial, sans-serif;font-size:39.03px;font-weight:700;font-style:normal" fill="#ff0000" textLength="601.18" lengthAdjust="spacingAndGlyphs">Large grain diamond MOSFETs</text>
<text x="1652.27" y="151.34" style="font-family:'Liberation Sans', Arial, sans-serif;font-size:37.77px;font-weight:700;font-style:normal" fill="#0000e0" textLength="656.57" lengthAdjust="spacingAndGlyphs">Homoepitaxial diamond MOSFETs</text>
<text x="1654.17" y="224.76" style="font-family:'Liberation Sans', Arial, sans-serif;font-size:39.71px;font-weight:700;font-style:normal" fill="#111" textLength="364.38" lengthAdjust="spacingAndGlyphs">AlGaN/GaN HEMTs</text>
<text x="1450.93" y="313.91" style="font-family:'Liberation Sans', Arial, sans-serif;font-size:56.77px;font-weight:700;font-style:normal" fill="#000" textLength="81.85" lengthAdjust="spacingAndGlyphs">100</text>
<text x="1476.74" y="694.75" style="font-family:'Liberation Sans', Arial, sans-serif;font-size:60.80px;font-weight:700;font-style:normal" fill="#000" textLength="57.97" lengthAdjust="spacingAndGlyphs">10</text>
<text x="1673.59" y="936.50" style="font-family:'Liberation Sans', Arial, sans-serif;font-size:68.98px;font-weight:700;font-style:normal" fill="#000" textLength="25.86" lengthAdjust="spacingAndGlyphs">1</text>
<text x="2130.24" y="935.45" style="font-family:'Liberation Sans', Arial, sans-serif;font-size:67.48px;font-weight:700;font-style:normal" fill="#000" textLength="78.16" lengthAdjust="spacingAndGlyphs">0.1</text>
<text x="1624.12" y="1014.99" style="font-family:'Liberation Sans', Arial, sans-serif;font-size:77.74px;font-weight:400;font-style:normal" fill="#111">(</text>
<text x="1653.40" y="1016.45" style="font-family:'Liberation Sans', Arial, sans-serif;font-size:79.73px;font-weight:400;font-style:normal" fill="#111" textLength="42.71" lengthAdjust="spacingAndGlyphs">b</text>
<text x="1698.82" y="1014.99" style="font-family:'Liberation Sans', Arial, sans-serif;font-size:77.74px;font-weight:400;font-style:normal" fill="#111">)</text>
<text x="1833.12" y="1020.70" style="font-family:'Liberation Sans', Arial, sans-serif;font-size:70.97px;font-weight:700;font-style:normal" fill="#000" textLength="37.94" lengthAdjust="spacingAndGlyphs">L</text>
<text x="1869.61" y="1041.99" style="font-family:'Liberation Sans', Arial, sans-serif;font-size:38.96px;font-weight:400;font-style:normal" fill="#000" textLength="31.41" lengthAdjust="spacingAndGlyphs">G</text>
<text x="1912.33" y="1018.72" style="font-family:'Liberation Sans', Arial, sans-serif;font-size:65.26px;font-weight:700;font-style:normal" fill="#000" textLength="121.21" lengthAdjust="spacingAndGlyphs">[µm]</text>
<text transform="translate(1432.60,0) rotate(-90)" x="-581.56" y="0" style="font-family:'Liberation Sans', Arial, sans-serif;font-size:66.72px;font-weight:700;font-style:normal" fill="#000" textLength="24.76" lengthAdjust="spacingAndGlyphs">f</text>
<text transform="translate(1457.00,0) rotate(-90)" x="-559.94" y="0" style="font-family:'Liberation Sans', Arial, sans-serif;font-size:43.38px;font-weight:400;font-style:normal" fill="#000" textLength="25.15" lengthAdjust="spacingAndGlyphs">T</text>
<text transform="translate(1431.68,0) rotate(-90)" x="-536.93" y="0" style="font-family:'Liberation Sans', Arial, sans-serif;font-size:65.47px;font-weight:700;font-style:normal" fill="#000" textLength="166.56" lengthAdjust="spacingAndGlyphs">[GHz]</text>
<text x="1581.50" y="368.80" style="font-family:'Liberation Sans', Arial, sans-serif;font-size:49.69px;font-weight:700;font-style:italic" fill="#ff0000" textLength="24.92" lengthAdjust="spacingAndGlyphs">v</text>
<text x="1610.00" y="385.08" style="font-family:'Liberation Sans', Arial, sans-serif;font-size:33.39px;font-weight:700;font-style:italic" fill="#ff0000" textLength="20.25" lengthAdjust="spacingAndGlyphs">S</text>
<text x="1632.40" y="369.17" style="font-family:'Liberation Sans', Arial, sans-serif;font-size:53.43px;font-weight:700;font-style:normal" fill="#ff0000" textLength="144.18" lengthAdjust="spacingAndGlyphs">=1x10</text>
<text x="1780.85" y="353.20" style="font-family:'Liberation Sans', Arial, sans-serif;font-size:35.84px;font-weight:700;font-style:normal" fill="#ff0000" textLength="15.16" lengthAdjust="spacingAndGlyphs">7</text>
<text x="1796.90" y="368.43" style="font-family:'Liberation Sans', Arial, sans-serif;font-size:50.16px;font-weight:700;font-style:normal" fill="#ff0000" textLength="116.88" lengthAdjust="spacingAndGlyphs">cm/s</text>
<text x="1827.72" y="791.20" style="font-family:'Liberation Sans', Arial, sans-serif;font-size:52.33px;font-weight:700;font-style:italic" fill="#ff0000" textLength="24.72" lengthAdjust="spacingAndGlyphs">v</text>
<text x="1855.70" y="805.04" style="font-family:'Liberation Sans', Arial, sans-serif;font-size:36.03px;font-weight:700;font-style:italic" fill="#ff0000" textLength="20.05" lengthAdjust="spacingAndGlyphs">S</text>
<text x="1877.20" y="791.00" style="font-family:'Liberation Sans', Arial, sans-serif;font-size:51.48px;font-weight:700;font-style:normal" fill="#ff0000" textLength="143.88" lengthAdjust="spacingAndGlyphs">=6x10</text>
<text x="2024.74" y="776.33" style="font-family:'Liberation Sans', Arial, sans-serif;font-size:36.17px;font-weight:700;font-style:normal" fill="#ff0000" textLength="15.35" lengthAdjust="spacingAndGlyphs">6</text>
<text x="2042.38" y="790.18" style="font-family:'Liberation Sans', Arial, sans-serif;font-size:51.98px;font-weight:700;font-style:normal" fill="#ff0000" textLength="117.81" lengthAdjust="spacingAndGlyphs">cm/s</text>
<text x="2026.40" y="618.15" style="font-family:'Liberation Sans', Arial, sans-serif;font-size:41.74px;font-weight:700;font-style:normal" fill="#ff0000" textLength="125.86" lengthAdjust="spacingAndGlyphs">45GHz</text>
<text x="2095.60" y="404.30" style="font-family:'Liberation Sans', Arial, sans-serif;font-size:33.36px;font-weight:700;font-style:normal" fill="#00a020" textLength="207.65" lengthAdjust="spacingAndGlyphs">45GHz (NTT)</text>
<text x="740.31" y="1187.45" style="font-family:'Liberation Serif', 'Times New Roman', serif;font-size:34.91px;font-weight:700;font-style:normal" fill="#1a1a1a" textLength="138.11" lengthAdjust="spacingAndGlyphs">LDMOS</text>
<text x="728.26" y="1229.45" style="font-family:'Liberation Serif', 'Times New Roman', serif;font-size:34.91px;font-weight:700;font-style:normal" fill="#1a1a1a" textLength="170.64" lengthAdjust="spacingAndGlyphs">GaAs FET</text>
<text x="728.25" y="1273.87" style="font-family:'Liberation Serif', 'Times New Roman', serif;font-size:33.95px;font-weight:700;font-style:normal" fill="#1a1a1a" textLength="140.36" lengthAdjust="spacingAndGlyphs">SiC FET</text>
<text x="739.70" y="1318.80" style="font-family:'Liberation Serif', 'Times New Roman', serif;font-size:35.72px;font-weight:700;font-style:normal" fill="#1a1a1a" textLength="319.70" lengthAdjust="spacingAndGlyphs">AlGaN/GaN HEMT</text>
<text x="737.92" y="1362.00" style="font-family:'Liberation Serif', 'Times New Roman', serif;font-size:36.57px;font-weight:700;font-style:normal" fill="#1a1a1a" textLength="228.48" lengthAdjust="spacingAndGlyphs">Diamond FET</text>
<text x="731.30" y="1407.18" style="font-family:'Liberation Serif', 'Times New Roman', serif;font-size:33.39px;font-weight:700;font-style:normal" fill="#1a1a1a" textLength="124.14" lengthAdjust="spacingAndGlyphs">ALD-Al</text>
<text x="859.25" y="1419.00" style="font-family:'Liberation Serif', 'Times New Roman', serif;font-size:16.37px;font-weight:700;font-style:normal" fill="#1a1a1a" textLength="12.00" lengthAdjust="spacingAndGlyphs">2</text>
<text x="869.91" y="1407.45" style="font-family:'Liberation Serif', 'Times New Roman', serif;font-size:35.35px;font-weight:700;font-style:normal" fill="#1a1a1a" textLength="29.76" lengthAdjust="spacingAndGlyphs">O</text>
<text x="899.54" y="1420.53" style="font-family:'Liberation Serif', 'Times New Roman', serif;font-size:17.16px;font-weight:700;font-style:normal" fill="#1a1a1a" textLength="13.71" lengthAdjust="spacingAndGlyphs">3</text>
<text x="921.43" y="1407.70" style="font-family:'Liberation Serif', 'Times New Roman', serif;font-size:36.57px;font-weight:700;font-style:normal" fill="#1a1a1a" textLength="225.37" lengthAdjust="spacingAndGlyphs">Diamond FET</text>
<text x="1364.70" y="1180.30" style="font-family:'Liberation Serif', 'Times New Roman', serif;font-size:46.17px;font-weight:700;font-style:normal" fill="#1a1a1a" textLength="228.53" lengthAdjust="spacingAndGlyphs">41.4 W/mm</text>
<text x="1416.01" y="1231.94" style="font-family:'Liberation Serif', 'Times New Roman', serif;font-size:41.44px;font-weight:700;font-style:normal" fill="#1a1a1a" textLength="128.71" lengthAdjust="spacingAndGlyphs">(Cree)</text>
<text x="1549.90" y="1502.30" style="font-family:'Liberation Serif', 'Times New Roman', serif;font-size:49.68px;font-weight:700;font-style:normal" fill="#f01c1c" textLength="242.17" lengthAdjust="spacingAndGlyphs">3.8 W/mm</text>
<text x="767.54" y="1512.30" style="font-family:'Liberation Serif', 'Times New Roman', serif;font-size:43.89px;font-weight:700;font-style:normal" fill="#1a1a1a" textLength="230.69" lengthAdjust="spacingAndGlyphs">2.14 W/mm</text>
<text x="790.53" y="1562.39" style="font-family:'Liberation Serif', 'Times New Roman', serif;font-size:43.93px;font-weight:700;font-style:normal" fill="#1a1a1a" textLength="188.17" lengthAdjust="spacingAndGlyphs">(Waseda)</text>
<text x="827.37" y="1625.80" style="font-family:'Liberation Serif', 'Times New Roman', serif;font-size:46.93px;font-weight:700;font-style:normal" fill="#1a1a1a" textLength="203.66" lengthAdjust="spacingAndGlyphs">2.1 W/mm</text>
<text x="865.83" y="1676.29" style="font-family:'Liberation Serif', 'Times New Roman', serif;font-size:41.65px;font-weight:700;font-style:normal" fill="#1a1a1a" textLength="128.17" lengthAdjust="spacingAndGlyphs">(NTT)</text>
<text x="1272.86" y="1705.60" style="font-family:'Liberation Serif', 'Times New Roman', serif;font-size:43.58px;font-weight:700;font-style:normal" fill="#1a1a1a" textLength="228.37" lengthAdjust="spacingAndGlyphs">0.35 W/mm</text>
<text x="1251.03" y="1758.24" style="font-family:'Liberation Serif', 'Times New Roman', serif;font-size:43.72px;font-weight:700;font-style:normal" fill="#1a1a1a" textLength="277.07" lengthAdjust="spacingAndGlyphs">(Ulm &amp; NTT)</text>
<text x="498.98" y="1369.16" style="font-family:'Liberation Serif', 'Times New Roman', serif;font-size:79.13px;font-weight:400;font-style:normal" fill="#1a1a1a" textLength="82.19" lengthAdjust="spacingAndGlyphs">10</text>
<text x="545.47" y="1625.50" style="font-family:'Liberation Serif', 'Times New Roman', serif;font-size:81.12px;font-weight:400;font-style:normal" fill="#1a1a1a" textLength="27.07" lengthAdjust="spacingAndGlyphs">1</text>
<text x="474.49" y="1878.38" style="font-family:'Liberation Serif', 'Times New Roman', serif;font-size:78.25px;font-weight:400;font-style:normal" fill="#1a1a1a" textLength="100.27" lengthAdjust="spacingAndGlyphs">0.1</text>
<text x="911.05" y="1932.32" style="font-family:'Liberation Serif', 'Times New Roman', serif;font-size:75.64px;font-weight:400;font-style:normal" fill="#1a1a1a" textLength="79.94" lengthAdjust="spacingAndGlyphs">10</text>
<text x="1559.57" y="1931.49" style="font-family:'Liberation Serif', 'Times New Roman', serif;font-size:77.38px;font-weight:400;font-style:normal" fill="#1a1a1a" textLength="123.40" lengthAdjust="spacingAndGlyphs">100</text>
<text x="1103.60" y="1988.75" style="font-family:'Liberation Serif', 'Times New Roman', serif;font-size:67.42px;font-weight:400;font-style:normal" fill="#1a1a1a" textLength="47.52" lengthAdjust="spacingAndGlyphs">V</text>
<text x="1152.06" y="2004.78" style="font-family:'Liberation Serif', 'Times New Roman', serif;font-size:45.82px;font-weight:400;font-style:normal" fill="#1a1a1a" textLength="60.60" lengthAdjust="spacingAndGlyphs">DS</text>
<text x="1221.42" y="1989.50" style="font-family:'Liberation Serif', 'Times New Roman', serif;font-size:64.00px;font-weight:400;font-style:normal" fill="#1a1a1a" textLength="101.21" lengthAdjust="spacingAndGlyphs">(V)</text>
<text x="744.98" y="1980.86" style="font-family:'Liberation Sans', Arial, sans-serif;font-size:77.43px;font-weight:400;font-style:normal" fill="#111">(</text>
<text x="775.04" y="1982.35" style="font-family:'Liberation Sans', Arial, sans-serif;font-size:73.60px;font-weight:400;font-style:normal" fill="#111" textLength="34.54" lengthAdjust="spacingAndGlyphs">c</text>
<text x="810.06" y="1980.86" style="font-family:'Liberation Sans', Arial, sans-serif;font-size:77.43px;font-weight:400;font-style:normal" fill="#111">)</text>
<text transform="translate(464.60,0) rotate(-90)" x="-1647.09" y="0" style="font-family:'Liberation Serif', 'Times New Roman', serif;font-size:77.71px;font-weight:400;font-style:normal" fill="#1a1a1a" textLength="38.83" lengthAdjust="spacingAndGlyphs">P</text>
<text transform="translate(479.24,0) rotate(-90)" x="-1609.82" y="0" style="font-family:'Liberation Serif', 'Times New Roman', serif;font-size:48.84px;font-weight:400;font-style:normal" fill="#1a1a1a" textLength="53.87" lengthAdjust="spacingAndGlyphs">out</text>
<text transform="translate(462.72,0) rotate(-90)" x="-1544.08" y="0" style="font-family:'Liberation Serif', 'Times New Roman', serif;font-size:69.86px;font-weight:400;font-style:normal" fill="#1a1a1a" textLength="228.78" lengthAdjust="spacingAndGlyphs">(W/mm)</text>
</g>
</svg>
</body></html>
